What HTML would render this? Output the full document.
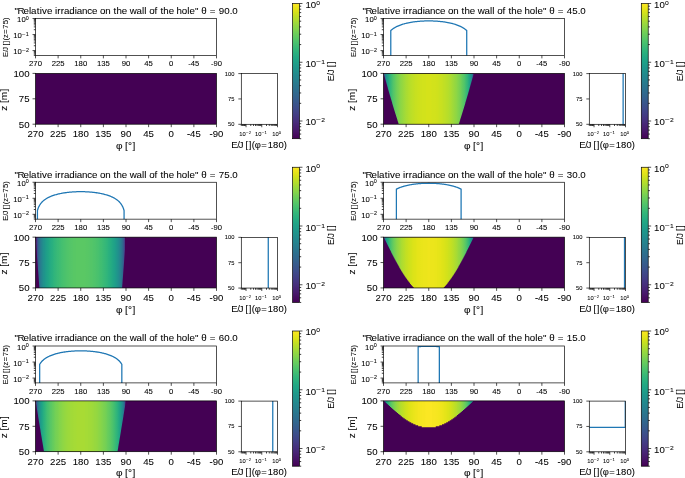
<!DOCTYPE html>
<html><head><meta charset="utf-8"><style>
html,body{margin:0;padding:0;background:#fff;}
svg{display:block;will-change:transform;}
text{font-family:"Liberation Sans",sans-serif;fill:#000;stroke:#000;stroke-width:0.06px;}
</style></head><body>
<svg width="685" height="478" viewBox="0 0 685 478">
<defs><clipPath id="c1"><rect x="35.5" y="18.5" width="181" height="36.9"/></clipPath><clipPath id="c2"><rect x="241.3" y="73.6" width="36.2" height="50.7"/></clipPath><clipPath id="c3"><rect x="383.5" y="18.5" width="181" height="36.9"/></clipPath><linearGradient id="g1" gradientUnits="userSpaceOnUse" x1="383.5" y1="0" x2="474" y2="0"><stop offset="0%" stop-color="#440154"/><stop offset="0.56%" stop-color="#443a83"/><stop offset="1.11%" stop-color="#34608d"/><stop offset="1.67%" stop-color="#2c728e"/><stop offset="2.22%" stop-color="#27808e"/><stop offset="2.78%" stop-color="#238a8d"/><stop offset="3.33%" stop-color="#20928c"/><stop offset="3.89%" stop-color="#1f998a"/><stop offset="4.44%" stop-color="#1f9f88"/><stop offset="5%" stop-color="#20a486"/><stop offset="5.56%" stop-color="#23a983"/><stop offset="6.11%" stop-color="#27ad81"/><stop offset="6.67%" stop-color="#2cb17e"/><stop offset="7.22%" stop-color="#31b57b"/><stop offset="7.78%" stop-color="#35b779"/><stop offset="8.33%" stop-color="#3aba76"/><stop offset="8.89%" stop-color="#3fbc73"/><stop offset="9.44%" stop-color="#44bf70"/><stop offset="10%" stop-color="#4ac16d"/><stop offset="10.56%" stop-color="#50c46a"/><stop offset="11.11%" stop-color="#54c568"/><stop offset="11.67%" stop-color="#58c765"/><stop offset="12.22%" stop-color="#5cc863"/><stop offset="12.78%" stop-color="#60ca60"/><stop offset="13.33%" stop-color="#65cb5e"/><stop offset="13.89%" stop-color="#69cd5b"/><stop offset="14.44%" stop-color="#6ece58"/><stop offset="15%" stop-color="#73d056"/><stop offset="15.56%" stop-color="#75d054"/><stop offset="16.11%" stop-color="#7ad151"/><stop offset="16.67%" stop-color="#7cd250"/><stop offset="17.22%" stop-color="#81d34d"/><stop offset="17.78%" stop-color="#84d44b"/><stop offset="18.33%" stop-color="#86d549"/><stop offset="18.89%" stop-color="#8bd646"/><stop offset="19.44%" stop-color="#8ed645"/><stop offset="20%" stop-color="#90d743"/><stop offset="20.56%" stop-color="#93d741"/><stop offset="21.11%" stop-color="#95d840"/><stop offset="21.67%" stop-color="#98d83e"/><stop offset="22.22%" stop-color="#9bd93c"/><stop offset="22.78%" stop-color="#9dd93b"/><stop offset="23.33%" stop-color="#a0da39"/><stop offset="23.89%" stop-color="#a2da37"/><stop offset="24.44%" stop-color="#a5db36"/><stop offset="25%" stop-color="#a8db34"/><stop offset="25.56%" stop-color="#aadc32"/><stop offset="26.11%" stop-color="#addc30"/><stop offset="26.67%" stop-color="#addc30"/><stop offset="27.22%" stop-color="#b0dd2f"/><stop offset="27.78%" stop-color="#b2dd2d"/><stop offset="28.33%" stop-color="#b5de2b"/><stop offset="28.89%" stop-color="#b5de2b"/><stop offset="29.44%" stop-color="#b8de29"/><stop offset="30%" stop-color="#bade28"/><stop offset="30.56%" stop-color="#bade28"/><stop offset="31.11%" stop-color="#bddf26"/><stop offset="31.67%" stop-color="#bddf26"/><stop offset="32.22%" stop-color="#c0df25"/><stop offset="32.78%" stop-color="#c0df25"/><stop offset="33.33%" stop-color="#c2df23"/><stop offset="33.89%" stop-color="#c2df23"/><stop offset="34.44%" stop-color="#c5e021"/><stop offset="35%" stop-color="#c5e021"/><stop offset="35.56%" stop-color="#c8e020"/><stop offset="36.11%" stop-color="#c8e020"/><stop offset="36.67%" stop-color="#c8e020"/><stop offset="37.22%" stop-color="#cae11f"/><stop offset="37.78%" stop-color="#cae11f"/><stop offset="38.33%" stop-color="#cae11f"/><stop offset="38.89%" stop-color="#cde11d"/><stop offset="39.44%" stop-color="#cde11d"/><stop offset="40%" stop-color="#cde11d"/><stop offset="40.56%" stop-color="#d0e11c"/><stop offset="41.11%" stop-color="#d0e11c"/><stop offset="41.67%" stop-color="#d0e11c"/><stop offset="42.22%" stop-color="#d0e11c"/><stop offset="42.78%" stop-color="#d2e21b"/><stop offset="43.33%" stop-color="#d2e21b"/><stop offset="43.89%" stop-color="#d2e21b"/><stop offset="44.44%" stop-color="#d2e21b"/><stop offset="45%" stop-color="#d2e21b"/><stop offset="45.56%" stop-color="#d2e21b"/><stop offset="46.11%" stop-color="#d2e21b"/><stop offset="46.67%" stop-color="#d2e21b"/><stop offset="47.22%" stop-color="#d5e21a"/><stop offset="47.78%" stop-color="#d5e21a"/><stop offset="48.33%" stop-color="#d5e21a"/><stop offset="48.89%" stop-color="#d5e21a"/><stop offset="49.44%" stop-color="#d5e21a"/><stop offset="50%" stop-color="#d5e21a"/><stop offset="50.56%" stop-color="#d5e21a"/><stop offset="51.11%" stop-color="#d5e21a"/><stop offset="51.67%" stop-color="#d5e21a"/><stop offset="52.22%" stop-color="#d5e21a"/><stop offset="52.78%" stop-color="#d5e21a"/><stop offset="53.33%" stop-color="#d2e21b"/><stop offset="53.89%" stop-color="#d2e21b"/><stop offset="54.44%" stop-color="#d2e21b"/><stop offset="55%" stop-color="#d2e21b"/><stop offset="55.56%" stop-color="#d2e21b"/><stop offset="56.11%" stop-color="#d2e21b"/><stop offset="56.67%" stop-color="#d2e21b"/><stop offset="57.22%" stop-color="#d2e21b"/><stop offset="57.78%" stop-color="#d0e11c"/><stop offset="58.33%" stop-color="#d0e11c"/><stop offset="58.89%" stop-color="#d0e11c"/><stop offset="59.44%" stop-color="#d0e11c"/><stop offset="60%" stop-color="#cde11d"/><stop offset="60.56%" stop-color="#cde11d"/><stop offset="61.11%" stop-color="#cde11d"/><stop offset="61.67%" stop-color="#cae11f"/><stop offset="62.22%" stop-color="#cae11f"/><stop offset="62.78%" stop-color="#cae11f"/><stop offset="63.33%" stop-color="#c8e020"/><stop offset="63.89%" stop-color="#c8e020"/><stop offset="64.44%" stop-color="#c8e020"/><stop offset="65%" stop-color="#c5e021"/><stop offset="65.56%" stop-color="#c5e021"/><stop offset="66.11%" stop-color="#c2df23"/><stop offset="66.67%" stop-color="#c2df23"/><stop offset="67.22%" stop-color="#c0df25"/><stop offset="67.78%" stop-color="#c0df25"/><stop offset="68.33%" stop-color="#bddf26"/><stop offset="68.89%" stop-color="#bddf26"/><stop offset="69.44%" stop-color="#bade28"/><stop offset="70%" stop-color="#bade28"/><stop offset="70.56%" stop-color="#b8de29"/><stop offset="71.11%" stop-color="#b5de2b"/><stop offset="71.67%" stop-color="#b5de2b"/><stop offset="72.22%" stop-color="#b2dd2d"/><stop offset="72.78%" stop-color="#b0dd2f"/><stop offset="73.33%" stop-color="#addc30"/><stop offset="73.89%" stop-color="#addc30"/><stop offset="74.44%" stop-color="#aadc32"/><stop offset="75%" stop-color="#a8db34"/><stop offset="75.56%" stop-color="#a5db36"/><stop offset="76.11%" stop-color="#a2da37"/><stop offset="76.67%" stop-color="#a0da39"/><stop offset="77.22%" stop-color="#9dd93b"/><stop offset="77.78%" stop-color="#9bd93c"/><stop offset="78.33%" stop-color="#98d83e"/><stop offset="78.89%" stop-color="#95d840"/><stop offset="79.44%" stop-color="#93d741"/><stop offset="80%" stop-color="#90d743"/><stop offset="80.56%" stop-color="#8ed645"/><stop offset="81.11%" stop-color="#8bd646"/><stop offset="81.67%" stop-color="#86d549"/><stop offset="82.22%" stop-color="#84d44b"/><stop offset="82.78%" stop-color="#81d34d"/><stop offset="83.33%" stop-color="#7cd250"/><stop offset="83.89%" stop-color="#7ad151"/><stop offset="84.44%" stop-color="#75d054"/><stop offset="85%" stop-color="#73d056"/><stop offset="85.56%" stop-color="#6ece58"/><stop offset="86.11%" stop-color="#69cd5b"/><stop offset="86.67%" stop-color="#65cb5e"/><stop offset="87.22%" stop-color="#60ca60"/><stop offset="87.78%" stop-color="#5cc863"/><stop offset="88.33%" stop-color="#58c765"/><stop offset="88.89%" stop-color="#54c568"/><stop offset="89.44%" stop-color="#50c46a"/><stop offset="90%" stop-color="#4ac16d"/><stop offset="90.56%" stop-color="#44bf70"/><stop offset="91.11%" stop-color="#3fbc73"/><stop offset="91.67%" stop-color="#3aba76"/><stop offset="92.22%" stop-color="#35b779"/><stop offset="92.78%" stop-color="#31b57b"/><stop offset="93.33%" stop-color="#2cb17e"/><stop offset="93.89%" stop-color="#27ad81"/><stop offset="94.44%" stop-color="#23a983"/><stop offset="95%" stop-color="#20a486"/><stop offset="95.56%" stop-color="#1f9f88"/><stop offset="96.11%" stop-color="#1f998a"/><stop offset="96.67%" stop-color="#20928c"/><stop offset="97.22%" stop-color="#238a8d"/><stop offset="97.78%" stop-color="#27808e"/><stop offset="98.33%" stop-color="#2c728e"/><stop offset="98.89%" stop-color="#34608d"/><stop offset="99.44%" stop-color="#443a83"/><stop offset="100%" stop-color="#440154"/></linearGradient><clipPath id="c4"><rect x="589.3" y="73.6" width="36.2" height="50.7"/></clipPath><clipPath id="c5"><rect x="35.5" y="182.25" width="181" height="36.9"/></clipPath><linearGradient id="g2" gradientUnits="userSpaceOnUse" x1="35.5" y1="0" x2="126" y2="0"><stop offset="0%" stop-color="#440154"/><stop offset="0.56%" stop-color="#440154"/><stop offset="1.11%" stop-color="#482878"/><stop offset="1.67%" stop-color="#424086"/><stop offset="2.22%" stop-color="#3c508b"/><stop offset="2.78%" stop-color="#375b8d"/><stop offset="3.33%" stop-color="#32648e"/><stop offset="3.89%" stop-color="#2f6b8e"/><stop offset="4.44%" stop-color="#2c718e"/><stop offset="5%" stop-color="#2a778e"/><stop offset="5.56%" stop-color="#287c8e"/><stop offset="6.11%" stop-color="#27808e"/><stop offset="6.67%" stop-color="#25838e"/><stop offset="7.22%" stop-color="#24878e"/><stop offset="7.78%" stop-color="#228b8d"/><stop offset="8.33%" stop-color="#218e8d"/><stop offset="8.89%" stop-color="#21918c"/><stop offset="9.44%" stop-color="#20938c"/><stop offset="10%" stop-color="#1f958b"/><stop offset="10.56%" stop-color="#1f988b"/><stop offset="11.11%" stop-color="#1f9a8a"/><stop offset="11.67%" stop-color="#1e9d89"/><stop offset="12.22%" stop-color="#1f9f88"/><stop offset="12.78%" stop-color="#1fa188"/><stop offset="13.33%" stop-color="#1fa287"/><stop offset="13.89%" stop-color="#20a486"/><stop offset="14.44%" stop-color="#21a585"/><stop offset="15%" stop-color="#22a785"/><stop offset="15.56%" stop-color="#23a983"/><stop offset="16.11%" stop-color="#24aa83"/><stop offset="16.67%" stop-color="#25ac82"/><stop offset="17.22%" stop-color="#26ad81"/><stop offset="17.78%" stop-color="#28ae80"/><stop offset="18.33%" stop-color="#29af7f"/><stop offset="18.89%" stop-color="#2ab07f"/><stop offset="19.44%" stop-color="#2cb17e"/><stop offset="20%" stop-color="#2eb37c"/><stop offset="20.56%" stop-color="#2fb47c"/><stop offset="21.11%" stop-color="#31b57b"/><stop offset="21.67%" stop-color="#32b67a"/><stop offset="22.22%" stop-color="#34b679"/><stop offset="22.78%" stop-color="#35b779"/><stop offset="23.33%" stop-color="#37b878"/><stop offset="23.89%" stop-color="#38b977"/><stop offset="24.44%" stop-color="#3aba76"/><stop offset="25%" stop-color="#3aba76"/><stop offset="25.56%" stop-color="#3bbb75"/><stop offset="26.11%" stop-color="#3dbc74"/><stop offset="26.67%" stop-color="#3fbc73"/><stop offset="27.22%" stop-color="#40bd72"/><stop offset="27.78%" stop-color="#40bd72"/><stop offset="28.33%" stop-color="#42be71"/><stop offset="28.89%" stop-color="#44bf70"/><stop offset="29.44%" stop-color="#44bf70"/><stop offset="30%" stop-color="#46c06f"/><stop offset="30.56%" stop-color="#48c16e"/><stop offset="31.11%" stop-color="#48c16e"/><stop offset="31.67%" stop-color="#4ac16d"/><stop offset="32.22%" stop-color="#4ac16d"/><stop offset="32.78%" stop-color="#4cc26c"/><stop offset="33.33%" stop-color="#4cc26c"/><stop offset="33.89%" stop-color="#4ec36b"/><stop offset="34.44%" stop-color="#4ec36b"/><stop offset="35%" stop-color="#50c46a"/><stop offset="35.56%" stop-color="#50c46a"/><stop offset="36.11%" stop-color="#50c46a"/><stop offset="36.67%" stop-color="#52c569"/><stop offset="37.22%" stop-color="#52c569"/><stop offset="37.78%" stop-color="#54c568"/><stop offset="38.33%" stop-color="#54c568"/><stop offset="38.89%" stop-color="#54c568"/><stop offset="39.44%" stop-color="#54c568"/><stop offset="40%" stop-color="#56c667"/><stop offset="40.56%" stop-color="#56c667"/><stop offset="41.11%" stop-color="#56c667"/><stop offset="41.67%" stop-color="#58c765"/><stop offset="42.22%" stop-color="#58c765"/><stop offset="42.78%" stop-color="#58c765"/><stop offset="43.33%" stop-color="#58c765"/><stop offset="43.89%" stop-color="#58c765"/><stop offset="44.44%" stop-color="#58c765"/><stop offset="45%" stop-color="#5ac864"/><stop offset="45.56%" stop-color="#5ac864"/><stop offset="46.11%" stop-color="#5ac864"/><stop offset="46.67%" stop-color="#5ac864"/><stop offset="47.22%" stop-color="#5ac864"/><stop offset="47.78%" stop-color="#5ac864"/><stop offset="48.33%" stop-color="#5ac864"/><stop offset="48.89%" stop-color="#5ac864"/><stop offset="49.44%" stop-color="#5ac864"/><stop offset="50%" stop-color="#5ac864"/><stop offset="50.56%" stop-color="#5ac864"/><stop offset="51.11%" stop-color="#5ac864"/><stop offset="51.67%" stop-color="#5ac864"/><stop offset="52.22%" stop-color="#5ac864"/><stop offset="52.78%" stop-color="#5ac864"/><stop offset="53.33%" stop-color="#5ac864"/><stop offset="53.89%" stop-color="#5ac864"/><stop offset="54.44%" stop-color="#5ac864"/><stop offset="55%" stop-color="#5ac864"/><stop offset="55.56%" stop-color="#58c765"/><stop offset="56.11%" stop-color="#58c765"/><stop offset="56.67%" stop-color="#58c765"/><stop offset="57.22%" stop-color="#58c765"/><stop offset="57.78%" stop-color="#58c765"/><stop offset="58.33%" stop-color="#58c765"/><stop offset="58.89%" stop-color="#56c667"/><stop offset="59.44%" stop-color="#56c667"/><stop offset="60%" stop-color="#56c667"/><stop offset="60.56%" stop-color="#54c568"/><stop offset="61.11%" stop-color="#54c568"/><stop offset="61.67%" stop-color="#54c568"/><stop offset="62.22%" stop-color="#54c568"/><stop offset="62.78%" stop-color="#52c569"/><stop offset="63.33%" stop-color="#52c569"/><stop offset="63.89%" stop-color="#50c46a"/><stop offset="64.44%" stop-color="#50c46a"/><stop offset="65%" stop-color="#50c46a"/><stop offset="65.56%" stop-color="#4ec36b"/><stop offset="66.11%" stop-color="#4ec36b"/><stop offset="66.67%" stop-color="#4cc26c"/><stop offset="67.22%" stop-color="#4cc26c"/><stop offset="67.78%" stop-color="#4ac16d"/><stop offset="68.33%" stop-color="#4ac16d"/><stop offset="68.89%" stop-color="#48c16e"/><stop offset="69.44%" stop-color="#48c16e"/><stop offset="70%" stop-color="#46c06f"/><stop offset="70.56%" stop-color="#44bf70"/><stop offset="71.11%" stop-color="#44bf70"/><stop offset="71.67%" stop-color="#42be71"/><stop offset="72.22%" stop-color="#40bd72"/><stop offset="72.78%" stop-color="#40bd72"/><stop offset="73.33%" stop-color="#3fbc73"/><stop offset="73.89%" stop-color="#3dbc74"/><stop offset="74.44%" stop-color="#3bbb75"/><stop offset="75%" stop-color="#3aba76"/><stop offset="75.56%" stop-color="#3aba76"/><stop offset="76.11%" stop-color="#38b977"/><stop offset="76.67%" stop-color="#37b878"/><stop offset="77.22%" stop-color="#35b779"/><stop offset="77.78%" stop-color="#34b679"/><stop offset="78.33%" stop-color="#32b67a"/><stop offset="78.89%" stop-color="#31b57b"/><stop offset="79.44%" stop-color="#2fb47c"/><stop offset="80%" stop-color="#2eb37c"/><stop offset="80.56%" stop-color="#2cb17e"/><stop offset="81.11%" stop-color="#2ab07f"/><stop offset="81.67%" stop-color="#29af7f"/><stop offset="82.22%" stop-color="#28ae80"/><stop offset="82.78%" stop-color="#26ad81"/><stop offset="83.33%" stop-color="#25ac82"/><stop offset="83.89%" stop-color="#24aa83"/><stop offset="84.44%" stop-color="#23a983"/><stop offset="85%" stop-color="#22a785"/><stop offset="85.56%" stop-color="#21a585"/><stop offset="86.11%" stop-color="#20a486"/><stop offset="86.67%" stop-color="#1fa287"/><stop offset="87.22%" stop-color="#1fa188"/><stop offset="87.78%" stop-color="#1f9f88"/><stop offset="88.33%" stop-color="#1e9d89"/><stop offset="88.89%" stop-color="#1f9a8a"/><stop offset="89.44%" stop-color="#1f988b"/><stop offset="90%" stop-color="#1f958b"/><stop offset="90.56%" stop-color="#20938c"/><stop offset="91.11%" stop-color="#21918c"/><stop offset="91.67%" stop-color="#218e8d"/><stop offset="92.22%" stop-color="#228b8d"/><stop offset="92.78%" stop-color="#24878e"/><stop offset="93.33%" stop-color="#25838e"/><stop offset="93.89%" stop-color="#27808e"/><stop offset="94.44%" stop-color="#287c8e"/><stop offset="95%" stop-color="#2a778e"/><stop offset="95.56%" stop-color="#2c718e"/><stop offset="96.11%" stop-color="#2f6b8e"/><stop offset="96.67%" stop-color="#32648e"/><stop offset="97.22%" stop-color="#375b8d"/><stop offset="97.78%" stop-color="#3c508b"/><stop offset="98.33%" stop-color="#424086"/><stop offset="98.89%" stop-color="#482878"/><stop offset="99.44%" stop-color="#440154"/><stop offset="100%" stop-color="#440154"/></linearGradient><clipPath id="c6"><rect x="241.3" y="237.35" width="36.2" height="50.7"/></clipPath><clipPath id="c7"><rect x="383.5" y="182.25" width="181" height="36.9"/></clipPath><linearGradient id="g3" gradientUnits="userSpaceOnUse" x1="383.5" y1="0" x2="474" y2="0"><stop offset="0%" stop-color="#440154"/><stop offset="0.56%" stop-color="#404688"/><stop offset="1.11%" stop-color="#30698e"/><stop offset="1.67%" stop-color="#287c8e"/><stop offset="2.22%" stop-color="#23898e"/><stop offset="2.78%" stop-color="#20938c"/><stop offset="3.33%" stop-color="#1e9b8a"/><stop offset="3.89%" stop-color="#1fa287"/><stop offset="4.44%" stop-color="#22a884"/><stop offset="5%" stop-color="#27ad81"/><stop offset="5.56%" stop-color="#2db27d"/><stop offset="6.11%" stop-color="#34b679"/><stop offset="6.67%" stop-color="#3aba76"/><stop offset="7.22%" stop-color="#3fbc73"/><stop offset="7.78%" stop-color="#46c06f"/><stop offset="8.33%" stop-color="#4cc26c"/><stop offset="8.89%" stop-color="#52c569"/><stop offset="9.44%" stop-color="#58c765"/><stop offset="10%" stop-color="#5ec962"/><stop offset="10.56%" stop-color="#63cb5f"/><stop offset="11.11%" stop-color="#69cd5b"/><stop offset="11.67%" stop-color="#6ece58"/><stop offset="12.22%" stop-color="#73d056"/><stop offset="12.78%" stop-color="#77d153"/><stop offset="13.33%" stop-color="#7cd250"/><stop offset="13.89%" stop-color="#81d34d"/><stop offset="14.44%" stop-color="#86d549"/><stop offset="15%" stop-color="#89d548"/><stop offset="15.56%" stop-color="#8ed645"/><stop offset="16.11%" stop-color="#93d741"/><stop offset="16.67%" stop-color="#95d840"/><stop offset="17.22%" stop-color="#98d83e"/><stop offset="17.78%" stop-color="#9dd93b"/><stop offset="18.33%" stop-color="#a0da39"/><stop offset="18.89%" stop-color="#a2da37"/><stop offset="19.44%" stop-color="#a8db34"/><stop offset="20%" stop-color="#aadc32"/><stop offset="20.56%" stop-color="#addc30"/><stop offset="21.11%" stop-color="#b0dd2f"/><stop offset="21.67%" stop-color="#b2dd2d"/><stop offset="22.22%" stop-color="#b5de2b"/><stop offset="22.78%" stop-color="#b8de29"/><stop offset="23.33%" stop-color="#bade28"/><stop offset="23.89%" stop-color="#bddf26"/><stop offset="24.44%" stop-color="#c0df25"/><stop offset="25%" stop-color="#c2df23"/><stop offset="25.56%" stop-color="#c5e021"/><stop offset="26.11%" stop-color="#c5e021"/><stop offset="26.67%" stop-color="#c8e020"/><stop offset="27.22%" stop-color="#cae11f"/><stop offset="27.78%" stop-color="#cde11d"/><stop offset="28.33%" stop-color="#cde11d"/><stop offset="28.89%" stop-color="#d0e11c"/><stop offset="29.44%" stop-color="#d2e21b"/><stop offset="30%" stop-color="#d2e21b"/><stop offset="30.56%" stop-color="#d5e21a"/><stop offset="31.11%" stop-color="#d5e21a"/><stop offset="31.67%" stop-color="#d8e219"/><stop offset="32.22%" stop-color="#dae319"/><stop offset="32.78%" stop-color="#dae319"/><stop offset="33.33%" stop-color="#dde318"/><stop offset="33.89%" stop-color="#dde318"/><stop offset="34.44%" stop-color="#dfe318"/><stop offset="35%" stop-color="#dfe318"/><stop offset="35.56%" stop-color="#dfe318"/><stop offset="36.11%" stop-color="#e2e418"/><stop offset="36.67%" stop-color="#e2e418"/><stop offset="37.22%" stop-color="#e5e419"/><stop offset="37.78%" stop-color="#e5e419"/><stop offset="38.33%" stop-color="#e5e419"/><stop offset="38.89%" stop-color="#e7e419"/><stop offset="39.44%" stop-color="#e7e419"/><stop offset="40%" stop-color="#e7e419"/><stop offset="40.56%" stop-color="#e7e419"/><stop offset="41.11%" stop-color="#eae51a"/><stop offset="41.67%" stop-color="#eae51a"/><stop offset="42.22%" stop-color="#eae51a"/><stop offset="42.78%" stop-color="#eae51a"/><stop offset="43.33%" stop-color="#eae51a"/><stop offset="43.89%" stop-color="#ece51b"/><stop offset="44.44%" stop-color="#ece51b"/><stop offset="45%" stop-color="#ece51b"/><stop offset="45.56%" stop-color="#ece51b"/><stop offset="46.11%" stop-color="#ece51b"/><stop offset="46.67%" stop-color="#ece51b"/><stop offset="47.22%" stop-color="#ece51b"/><stop offset="47.78%" stop-color="#ece51b"/><stop offset="48.33%" stop-color="#ece51b"/><stop offset="48.89%" stop-color="#efe51c"/><stop offset="49.44%" stop-color="#efe51c"/><stop offset="50%" stop-color="#efe51c"/><stop offset="50.56%" stop-color="#efe51c"/><stop offset="51.11%" stop-color="#efe51c"/><stop offset="51.67%" stop-color="#ece51b"/><stop offset="52.22%" stop-color="#ece51b"/><stop offset="52.78%" stop-color="#ece51b"/><stop offset="53.33%" stop-color="#ece51b"/><stop offset="53.89%" stop-color="#ece51b"/><stop offset="54.44%" stop-color="#ece51b"/><stop offset="55%" stop-color="#ece51b"/><stop offset="55.56%" stop-color="#ece51b"/><stop offset="56.11%" stop-color="#ece51b"/><stop offset="56.67%" stop-color="#eae51a"/><stop offset="57.22%" stop-color="#eae51a"/><stop offset="57.78%" stop-color="#eae51a"/><stop offset="58.33%" stop-color="#eae51a"/><stop offset="58.89%" stop-color="#eae51a"/><stop offset="59.44%" stop-color="#e7e419"/><stop offset="60%" stop-color="#e7e419"/><stop offset="60.56%" stop-color="#e7e419"/><stop offset="61.11%" stop-color="#e7e419"/><stop offset="61.67%" stop-color="#e5e419"/><stop offset="62.22%" stop-color="#e5e419"/><stop offset="62.78%" stop-color="#e5e419"/><stop offset="63.33%" stop-color="#e2e418"/><stop offset="63.89%" stop-color="#e2e418"/><stop offset="64.44%" stop-color="#dfe318"/><stop offset="65%" stop-color="#dfe318"/><stop offset="65.56%" stop-color="#dfe318"/><stop offset="66.11%" stop-color="#dde318"/><stop offset="66.67%" stop-color="#dde318"/><stop offset="67.22%" stop-color="#dae319"/><stop offset="67.78%" stop-color="#dae319"/><stop offset="68.33%" stop-color="#d8e219"/><stop offset="68.89%" stop-color="#d5e21a"/><stop offset="69.44%" stop-color="#d5e21a"/><stop offset="70%" stop-color="#d2e21b"/><stop offset="70.56%" stop-color="#d2e21b"/><stop offset="71.11%" stop-color="#d0e11c"/><stop offset="71.67%" stop-color="#cde11d"/><stop offset="72.22%" stop-color="#cde11d"/><stop offset="72.78%" stop-color="#cae11f"/><stop offset="73.33%" stop-color="#c8e020"/><stop offset="73.89%" stop-color="#c5e021"/><stop offset="74.44%" stop-color="#c5e021"/><stop offset="75%" stop-color="#c2df23"/><stop offset="75.56%" stop-color="#c0df25"/><stop offset="76.11%" stop-color="#bddf26"/><stop offset="76.67%" stop-color="#bade28"/><stop offset="77.22%" stop-color="#b8de29"/><stop offset="77.78%" stop-color="#b5de2b"/><stop offset="78.33%" stop-color="#b2dd2d"/><stop offset="78.89%" stop-color="#b0dd2f"/><stop offset="79.44%" stop-color="#addc30"/><stop offset="80%" stop-color="#aadc32"/><stop offset="80.56%" stop-color="#a8db34"/><stop offset="81.11%" stop-color="#a2da37"/><stop offset="81.67%" stop-color="#a0da39"/><stop offset="82.22%" stop-color="#9dd93b"/><stop offset="82.78%" stop-color="#98d83e"/><stop offset="83.33%" stop-color="#95d840"/><stop offset="83.89%" stop-color="#93d741"/><stop offset="84.44%" stop-color="#8ed645"/><stop offset="85%" stop-color="#89d548"/><stop offset="85.56%" stop-color="#86d549"/><stop offset="86.11%" stop-color="#81d34d"/><stop offset="86.67%" stop-color="#7cd250"/><stop offset="87.22%" stop-color="#77d153"/><stop offset="87.78%" stop-color="#73d056"/><stop offset="88.33%" stop-color="#6ece58"/><stop offset="88.89%" stop-color="#69cd5b"/><stop offset="89.44%" stop-color="#63cb5f"/><stop offset="90%" stop-color="#5ec962"/><stop offset="90.56%" stop-color="#58c765"/><stop offset="91.11%" stop-color="#52c569"/><stop offset="91.67%" stop-color="#4cc26c"/><stop offset="92.22%" stop-color="#46c06f"/><stop offset="92.78%" stop-color="#3fbc73"/><stop offset="93.33%" stop-color="#3aba76"/><stop offset="93.89%" stop-color="#34b679"/><stop offset="94.44%" stop-color="#2db27d"/><stop offset="95%" stop-color="#27ad81"/><stop offset="95.56%" stop-color="#22a884"/><stop offset="96.11%" stop-color="#1fa287"/><stop offset="96.67%" stop-color="#1e9b8a"/><stop offset="97.22%" stop-color="#20938c"/><stop offset="97.78%" stop-color="#23898e"/><stop offset="98.33%" stop-color="#287c8e"/><stop offset="98.89%" stop-color="#30698e"/><stop offset="99.44%" stop-color="#404688"/><stop offset="100%" stop-color="#440154"/></linearGradient><clipPath id="c8"><rect x="589.3" y="237.35" width="36.2" height="50.7"/></clipPath><clipPath id="c9"><rect x="35.5" y="346" width="181" height="36.9"/></clipPath><linearGradient id="g4" gradientUnits="userSpaceOnUse" x1="35.5" y1="0" x2="126" y2="0"><stop offset="0%" stop-color="#440154"/><stop offset="0.56%" stop-color="#482576"/><stop offset="1.11%" stop-color="#3d4e8a"/><stop offset="1.67%" stop-color="#33628d"/><stop offset="2.22%" stop-color="#2d708e"/><stop offset="2.78%" stop-color="#297a8e"/><stop offset="3.33%" stop-color="#26828e"/><stop offset="3.89%" stop-color="#23898e"/><stop offset="4.44%" stop-color="#21908d"/><stop offset="5%" stop-color="#1f948c"/><stop offset="5.56%" stop-color="#1f998a"/><stop offset="6.11%" stop-color="#1f9e89"/><stop offset="6.67%" stop-color="#1fa187"/><stop offset="7.22%" stop-color="#21a585"/><stop offset="7.78%" stop-color="#22a884"/><stop offset="8.33%" stop-color="#25ac82"/><stop offset="8.89%" stop-color="#28ae80"/><stop offset="9.44%" stop-color="#2cb17e"/><stop offset="10%" stop-color="#2eb37c"/><stop offset="10.56%" stop-color="#32b67a"/><stop offset="11.11%" stop-color="#35b779"/><stop offset="11.67%" stop-color="#38b977"/><stop offset="12.22%" stop-color="#3dbc74"/><stop offset="12.78%" stop-color="#40bd72"/><stop offset="13.33%" stop-color="#44bf70"/><stop offset="13.89%" stop-color="#46c06f"/><stop offset="14.44%" stop-color="#4ac16d"/><stop offset="15%" stop-color="#4ec36b"/><stop offset="15.56%" stop-color="#50c46a"/><stop offset="16.11%" stop-color="#54c568"/><stop offset="16.67%" stop-color="#58c765"/><stop offset="17.22%" stop-color="#5ac864"/><stop offset="17.78%" stop-color="#5cc863"/><stop offset="18.33%" stop-color="#60ca60"/><stop offset="18.89%" stop-color="#63cb5f"/><stop offset="19.44%" stop-color="#65cb5e"/><stop offset="20%" stop-color="#67cc5c"/><stop offset="20.56%" stop-color="#69cd5b"/><stop offset="21.11%" stop-color="#6ece58"/><stop offset="21.67%" stop-color="#70cf57"/><stop offset="22.22%" stop-color="#73d056"/><stop offset="22.78%" stop-color="#75d054"/><stop offset="23.33%" stop-color="#77d153"/><stop offset="23.89%" stop-color="#7ad151"/><stop offset="24.44%" stop-color="#7ad151"/><stop offset="25%" stop-color="#7cd250"/><stop offset="25.56%" stop-color="#7fd34e"/><stop offset="26.11%" stop-color="#81d34d"/><stop offset="26.67%" stop-color="#84d44b"/><stop offset="27.22%" stop-color="#84d44b"/><stop offset="27.78%" stop-color="#86d549"/><stop offset="28.33%" stop-color="#89d548"/><stop offset="28.89%" stop-color="#89d548"/><stop offset="29.44%" stop-color="#8bd646"/><stop offset="30%" stop-color="#8ed645"/><stop offset="30.56%" stop-color="#8ed645"/><stop offset="31.11%" stop-color="#90d743"/><stop offset="31.67%" stop-color="#93d741"/><stop offset="32.22%" stop-color="#93d741"/><stop offset="32.78%" stop-color="#95d840"/><stop offset="33.33%" stop-color="#95d840"/><stop offset="33.89%" stop-color="#98d83e"/><stop offset="34.44%" stop-color="#98d83e"/><stop offset="35%" stop-color="#98d83e"/><stop offset="35.56%" stop-color="#9bd93c"/><stop offset="36.11%" stop-color="#9bd93c"/><stop offset="36.67%" stop-color="#9dd93b"/><stop offset="37.22%" stop-color="#9dd93b"/><stop offset="37.78%" stop-color="#9dd93b"/><stop offset="38.33%" stop-color="#a0da39"/><stop offset="38.89%" stop-color="#a0da39"/><stop offset="39.44%" stop-color="#a0da39"/><stop offset="40%" stop-color="#a2da37"/><stop offset="40.56%" stop-color="#a2da37"/><stop offset="41.11%" stop-color="#a2da37"/><stop offset="41.67%" stop-color="#a2da37"/><stop offset="42.22%" stop-color="#a5db36"/><stop offset="42.78%" stop-color="#a5db36"/><stop offset="43.33%" stop-color="#a5db36"/><stop offset="43.89%" stop-color="#a5db36"/><stop offset="44.44%" stop-color="#a5db36"/><stop offset="45%" stop-color="#a5db36"/><stop offset="45.56%" stop-color="#a8db34"/><stop offset="46.11%" stop-color="#a8db34"/><stop offset="46.67%" stop-color="#a8db34"/><stop offset="47.22%" stop-color="#a8db34"/><stop offset="47.78%" stop-color="#a8db34"/><stop offset="48.33%" stop-color="#a8db34"/><stop offset="48.89%" stop-color="#a8db34"/><stop offset="49.44%" stop-color="#a8db34"/><stop offset="50%" stop-color="#a8db34"/><stop offset="50.56%" stop-color="#a8db34"/><stop offset="51.11%" stop-color="#a8db34"/><stop offset="51.67%" stop-color="#a8db34"/><stop offset="52.22%" stop-color="#a8db34"/><stop offset="52.78%" stop-color="#a8db34"/><stop offset="53.33%" stop-color="#a8db34"/><stop offset="53.89%" stop-color="#a8db34"/><stop offset="54.44%" stop-color="#a8db34"/><stop offset="55%" stop-color="#a5db36"/><stop offset="55.56%" stop-color="#a5db36"/><stop offset="56.11%" stop-color="#a5db36"/><stop offset="56.67%" stop-color="#a5db36"/><stop offset="57.22%" stop-color="#a5db36"/><stop offset="57.78%" stop-color="#a5db36"/><stop offset="58.33%" stop-color="#a2da37"/><stop offset="58.89%" stop-color="#a2da37"/><stop offset="59.44%" stop-color="#a2da37"/><stop offset="60%" stop-color="#a2da37"/><stop offset="60.56%" stop-color="#a0da39"/><stop offset="61.11%" stop-color="#a0da39"/><stop offset="61.67%" stop-color="#a0da39"/><stop offset="62.22%" stop-color="#9dd93b"/><stop offset="62.78%" stop-color="#9dd93b"/><stop offset="63.33%" stop-color="#9dd93b"/><stop offset="63.89%" stop-color="#9bd93c"/><stop offset="64.44%" stop-color="#9bd93c"/><stop offset="65%" stop-color="#98d83e"/><stop offset="65.56%" stop-color="#98d83e"/><stop offset="66.11%" stop-color="#98d83e"/><stop offset="66.67%" stop-color="#95d840"/><stop offset="67.22%" stop-color="#95d840"/><stop offset="67.78%" stop-color="#93d741"/><stop offset="68.33%" stop-color="#93d741"/><stop offset="68.89%" stop-color="#90d743"/><stop offset="69.44%" stop-color="#8ed645"/><stop offset="70%" stop-color="#8ed645"/><stop offset="70.56%" stop-color="#8bd646"/><stop offset="71.11%" stop-color="#89d548"/><stop offset="71.67%" stop-color="#89d548"/><stop offset="72.22%" stop-color="#86d549"/><stop offset="72.78%" stop-color="#84d44b"/><stop offset="73.33%" stop-color="#84d44b"/><stop offset="73.89%" stop-color="#81d34d"/><stop offset="74.44%" stop-color="#7fd34e"/><stop offset="75%" stop-color="#7cd250"/><stop offset="75.56%" stop-color="#7ad151"/><stop offset="76.11%" stop-color="#7ad151"/><stop offset="76.67%" stop-color="#77d153"/><stop offset="77.22%" stop-color="#75d054"/><stop offset="77.78%" stop-color="#73d056"/><stop offset="78.33%" stop-color="#70cf57"/><stop offset="78.89%" stop-color="#6ece58"/><stop offset="79.44%" stop-color="#69cd5b"/><stop offset="80%" stop-color="#67cc5c"/><stop offset="80.56%" stop-color="#65cb5e"/><stop offset="81.11%" stop-color="#63cb5f"/><stop offset="81.67%" stop-color="#60ca60"/><stop offset="82.22%" stop-color="#5cc863"/><stop offset="82.78%" stop-color="#5ac864"/><stop offset="83.33%" stop-color="#58c765"/><stop offset="83.89%" stop-color="#54c568"/><stop offset="84.44%" stop-color="#50c46a"/><stop offset="85%" stop-color="#4ec36b"/><stop offset="85.56%" stop-color="#4ac16d"/><stop offset="86.11%" stop-color="#46c06f"/><stop offset="86.67%" stop-color="#44bf70"/><stop offset="87.22%" stop-color="#40bd72"/><stop offset="87.78%" stop-color="#3dbc74"/><stop offset="88.33%" stop-color="#38b977"/><stop offset="88.89%" stop-color="#35b779"/><stop offset="89.44%" stop-color="#32b67a"/><stop offset="90%" stop-color="#2eb37c"/><stop offset="90.56%" stop-color="#2cb17e"/><stop offset="91.11%" stop-color="#28ae80"/><stop offset="91.67%" stop-color="#25ac82"/><stop offset="92.22%" stop-color="#22a884"/><stop offset="92.78%" stop-color="#21a585"/><stop offset="93.33%" stop-color="#1fa187"/><stop offset="93.89%" stop-color="#1f9e89"/><stop offset="94.44%" stop-color="#1f998a"/><stop offset="95%" stop-color="#1f948c"/><stop offset="95.56%" stop-color="#21908d"/><stop offset="96.11%" stop-color="#23898e"/><stop offset="96.67%" stop-color="#26828e"/><stop offset="97.22%" stop-color="#297a8e"/><stop offset="97.78%" stop-color="#2d708e"/><stop offset="98.33%" stop-color="#33628d"/><stop offset="98.89%" stop-color="#3d4e8a"/><stop offset="99.44%" stop-color="#482576"/><stop offset="100%" stop-color="#440154"/></linearGradient><clipPath id="c10"><rect x="241.3" y="401.1" width="36.2" height="50.7"/></clipPath><clipPath id="c11"><rect x="383.5" y="346" width="181" height="36.9"/></clipPath><linearGradient id="g5" gradientUnits="userSpaceOnUse" x1="383.5" y1="0" x2="474" y2="0"><stop offset="0%" stop-color="#440154"/><stop offset="0.56%" stop-color="#3e4c8a"/><stop offset="1.11%" stop-color="#2e6f8e"/><stop offset="1.67%" stop-color="#26818e"/><stop offset="2.22%" stop-color="#218e8d"/><stop offset="2.78%" stop-color="#1f988b"/><stop offset="3.33%" stop-color="#1fa188"/><stop offset="3.89%" stop-color="#22a785"/><stop offset="4.44%" stop-color="#27ad81"/><stop offset="5%" stop-color="#2db27d"/><stop offset="5.56%" stop-color="#34b679"/><stop offset="6.11%" stop-color="#3bbb75"/><stop offset="6.67%" stop-color="#42be71"/><stop offset="7.22%" stop-color="#4ac16d"/><stop offset="7.78%" stop-color="#50c46a"/><stop offset="8.33%" stop-color="#58c765"/><stop offset="8.89%" stop-color="#5ec962"/><stop offset="9.44%" stop-color="#63cb5f"/><stop offset="10%" stop-color="#69cd5b"/><stop offset="10.56%" stop-color="#70cf57"/><stop offset="11.11%" stop-color="#75d054"/><stop offset="11.67%" stop-color="#7ad151"/><stop offset="12.22%" stop-color="#7fd34e"/><stop offset="12.78%" stop-color="#84d44b"/><stop offset="13.33%" stop-color="#89d548"/><stop offset="13.89%" stop-color="#8ed645"/><stop offset="14.44%" stop-color="#93d741"/><stop offset="15%" stop-color="#98d83e"/><stop offset="15.56%" stop-color="#9bd93c"/><stop offset="16.11%" stop-color="#a0da39"/><stop offset="16.67%" stop-color="#a2da37"/><stop offset="17.22%" stop-color="#a8db34"/><stop offset="17.78%" stop-color="#aadc32"/><stop offset="18.33%" stop-color="#addc30"/><stop offset="18.89%" stop-color="#b2dd2d"/><stop offset="19.44%" stop-color="#b5de2b"/><stop offset="20%" stop-color="#b8de29"/><stop offset="20.56%" stop-color="#bade28"/><stop offset="21.11%" stop-color="#bddf26"/><stop offset="21.67%" stop-color="#c0df25"/><stop offset="22.22%" stop-color="#c2df23"/><stop offset="22.78%" stop-color="#c5e021"/><stop offset="23.33%" stop-color="#c8e020"/><stop offset="23.89%" stop-color="#cae11f"/><stop offset="24.44%" stop-color="#cde11d"/><stop offset="25%" stop-color="#d0e11c"/><stop offset="25.56%" stop-color="#d2e21b"/><stop offset="26.11%" stop-color="#d5e21a"/><stop offset="26.67%" stop-color="#d5e21a"/><stop offset="27.22%" stop-color="#d8e219"/><stop offset="27.78%" stop-color="#dae319"/><stop offset="28.33%" stop-color="#dde318"/><stop offset="28.89%" stop-color="#dde318"/><stop offset="29.44%" stop-color="#dfe318"/><stop offset="30%" stop-color="#e2e418"/><stop offset="30.56%" stop-color="#e2e418"/><stop offset="31.11%" stop-color="#e5e419"/><stop offset="31.67%" stop-color="#e5e419"/><stop offset="32.22%" stop-color="#e7e419"/><stop offset="32.78%" stop-color="#e7e419"/><stop offset="33.33%" stop-color="#eae51a"/><stop offset="33.89%" stop-color="#eae51a"/><stop offset="34.44%" stop-color="#ece51b"/><stop offset="35%" stop-color="#ece51b"/><stop offset="35.56%" stop-color="#efe51c"/><stop offset="36.11%" stop-color="#efe51c"/><stop offset="36.67%" stop-color="#efe51c"/><stop offset="37.22%" stop-color="#f1e51d"/><stop offset="37.78%" stop-color="#f1e51d"/><stop offset="38.33%" stop-color="#f4e61e"/><stop offset="38.89%" stop-color="#f4e61e"/><stop offset="39.44%" stop-color="#f4e61e"/><stop offset="40%" stop-color="#f4e61e"/><stop offset="40.56%" stop-color="#f6e620"/><stop offset="41.11%" stop-color="#f6e620"/><stop offset="41.67%" stop-color="#f6e620"/><stop offset="42.22%" stop-color="#f6e620"/><stop offset="42.78%" stop-color="#f8e621"/><stop offset="43.33%" stop-color="#f8e621"/><stop offset="43.89%" stop-color="#f8e621"/><stop offset="44.44%" stop-color="#f8e621"/><stop offset="45%" stop-color="#f8e621"/><stop offset="45.56%" stop-color="#f8e621"/><stop offset="46.11%" stop-color="#f8e621"/><stop offset="46.67%" stop-color="#fbe723"/><stop offset="47.22%" stop-color="#fbe723"/><stop offset="47.78%" stop-color="#fbe723"/><stop offset="48.33%" stop-color="#fbe723"/><stop offset="48.89%" stop-color="#fbe723"/><stop offset="49.44%" stop-color="#fbe723"/><stop offset="50%" stop-color="#fbe723"/><stop offset="50.56%" stop-color="#fbe723"/><stop offset="51.11%" stop-color="#fbe723"/><stop offset="51.67%" stop-color="#fbe723"/><stop offset="52.22%" stop-color="#fbe723"/><stop offset="52.78%" stop-color="#fbe723"/><stop offset="53.33%" stop-color="#fbe723"/><stop offset="53.89%" stop-color="#f8e621"/><stop offset="54.44%" stop-color="#f8e621"/><stop offset="55%" stop-color="#f8e621"/><stop offset="55.56%" stop-color="#f8e621"/><stop offset="56.11%" stop-color="#f8e621"/><stop offset="56.67%" stop-color="#f8e621"/><stop offset="57.22%" stop-color="#f8e621"/><stop offset="57.78%" stop-color="#f6e620"/><stop offset="58.33%" stop-color="#f6e620"/><stop offset="58.89%" stop-color="#f6e620"/><stop offset="59.44%" stop-color="#f6e620"/><stop offset="60%" stop-color="#f4e61e"/><stop offset="60.56%" stop-color="#f4e61e"/><stop offset="61.11%" stop-color="#f4e61e"/><stop offset="61.67%" stop-color="#f4e61e"/><stop offset="62.22%" stop-color="#f1e51d"/><stop offset="62.78%" stop-color="#f1e51d"/><stop offset="63.33%" stop-color="#efe51c"/><stop offset="63.89%" stop-color="#efe51c"/><stop offset="64.44%" stop-color="#efe51c"/><stop offset="65%" stop-color="#ece51b"/><stop offset="65.56%" stop-color="#ece51b"/><stop offset="66.11%" stop-color="#eae51a"/><stop offset="66.67%" stop-color="#eae51a"/><stop offset="67.22%" stop-color="#e7e419"/><stop offset="67.78%" stop-color="#e7e419"/><stop offset="68.33%" stop-color="#e5e419"/><stop offset="68.89%" stop-color="#e5e419"/><stop offset="69.44%" stop-color="#e2e418"/><stop offset="70%" stop-color="#e2e418"/><stop offset="70.56%" stop-color="#dfe318"/><stop offset="71.11%" stop-color="#dde318"/><stop offset="71.67%" stop-color="#dde318"/><stop offset="72.22%" stop-color="#dae319"/><stop offset="72.78%" stop-color="#d8e219"/><stop offset="73.33%" stop-color="#d5e21a"/><stop offset="73.89%" stop-color="#d5e21a"/><stop offset="74.44%" stop-color="#d2e21b"/><stop offset="75%" stop-color="#d0e11c"/><stop offset="75.56%" stop-color="#cde11d"/><stop offset="76.11%" stop-color="#cae11f"/><stop offset="76.67%" stop-color="#c8e020"/><stop offset="77.22%" stop-color="#c5e021"/><stop offset="77.78%" stop-color="#c2df23"/><stop offset="78.33%" stop-color="#c0df25"/><stop offset="78.89%" stop-color="#bddf26"/><stop offset="79.44%" stop-color="#bade28"/><stop offset="80%" stop-color="#b8de29"/><stop offset="80.56%" stop-color="#b5de2b"/><stop offset="81.11%" stop-color="#b2dd2d"/><stop offset="81.67%" stop-color="#addc30"/><stop offset="82.22%" stop-color="#aadc32"/><stop offset="82.78%" stop-color="#a8db34"/><stop offset="83.33%" stop-color="#a2da37"/><stop offset="83.89%" stop-color="#a0da39"/><stop offset="84.44%" stop-color="#9bd93c"/><stop offset="85%" stop-color="#98d83e"/><stop offset="85.56%" stop-color="#93d741"/><stop offset="86.11%" stop-color="#8ed645"/><stop offset="86.67%" stop-color="#89d548"/><stop offset="87.22%" stop-color="#84d44b"/><stop offset="87.78%" stop-color="#7fd34e"/><stop offset="88.33%" stop-color="#7ad151"/><stop offset="88.89%" stop-color="#75d054"/><stop offset="89.44%" stop-color="#70cf57"/><stop offset="90%" stop-color="#69cd5b"/><stop offset="90.56%" stop-color="#63cb5f"/><stop offset="91.11%" stop-color="#5ec962"/><stop offset="91.67%" stop-color="#58c765"/><stop offset="92.22%" stop-color="#50c46a"/><stop offset="92.78%" stop-color="#4ac16d"/><stop offset="93.33%" stop-color="#42be71"/><stop offset="93.89%" stop-color="#3bbb75"/><stop offset="94.44%" stop-color="#34b679"/><stop offset="95%" stop-color="#2db27d"/><stop offset="95.56%" stop-color="#27ad81"/><stop offset="96.11%" stop-color="#22a785"/><stop offset="96.67%" stop-color="#1fa188"/><stop offset="97.22%" stop-color="#1f988b"/><stop offset="97.78%" stop-color="#218e8d"/><stop offset="98.33%" stop-color="#26818e"/><stop offset="98.89%" stop-color="#2e6f8e"/><stop offset="99.44%" stop-color="#3e4c8a"/><stop offset="100%" stop-color="#440154"/></linearGradient><clipPath id="c12"><rect x="589.3" y="401.1" width="36.2" height="50.7"/></clipPath><linearGradient id="cb" x1="0" y1="0" x2="0" y2="1"><stop offset="0%" stop-color="#fde725"/><stop offset="2.08%" stop-color="#f1e51d"/><stop offset="4.17%" stop-color="#e5e419"/><stop offset="6.25%" stop-color="#d8e219"/><stop offset="8.33%" stop-color="#c8e020"/><stop offset="10.42%" stop-color="#bade28"/><stop offset="12.5%" stop-color="#addc30"/><stop offset="14.58%" stop-color="#9dd93b"/><stop offset="16.67%" stop-color="#90d743"/><stop offset="18.75%" stop-color="#84d44b"/><stop offset="20.83%" stop-color="#75d054"/><stop offset="22.92%" stop-color="#69cd5b"/><stop offset="25%" stop-color="#5ec962"/><stop offset="27.08%" stop-color="#52c569"/><stop offset="29.17%" stop-color="#48c16e"/><stop offset="31.25%" stop-color="#3fbc73"/><stop offset="33.33%" stop-color="#35b779"/><stop offset="35.42%" stop-color="#2eb37c"/><stop offset="37.5%" stop-color="#28ae80"/><stop offset="39.58%" stop-color="#23a983"/><stop offset="41.67%" stop-color="#20a486"/><stop offset="43.75%" stop-color="#1fa088"/><stop offset="45.83%" stop-color="#1f9a8a"/><stop offset="47.92%" stop-color="#1f958b"/><stop offset="50%" stop-color="#21918c"/><stop offset="52.08%" stop-color="#228b8d"/><stop offset="54.17%" stop-color="#24868e"/><stop offset="56.25%" stop-color="#26828e"/><stop offset="58.33%" stop-color="#287c8e"/><stop offset="60.42%" stop-color="#2a778e"/><stop offset="62.5%" stop-color="#2c728e"/><stop offset="64.58%" stop-color="#2e6d8e"/><stop offset="66.67%" stop-color="#31688e"/><stop offset="68.75%" stop-color="#33638d"/><stop offset="70.83%" stop-color="#365d8d"/><stop offset="72.92%" stop-color="#38588c"/><stop offset="75%" stop-color="#3b528b"/><stop offset="77.08%" stop-color="#3e4c8a"/><stop offset="79.17%" stop-color="#404688"/><stop offset="81.25%" stop-color="#424086"/><stop offset="83.33%" stop-color="#443983"/><stop offset="85.42%" stop-color="#46337f"/><stop offset="87.5%" stop-color="#472d7b"/><stop offset="89.58%" stop-color="#482576"/><stop offset="91.67%" stop-color="#481f70"/><stop offset="93.75%" stop-color="#48186a"/><stop offset="95.83%" stop-color="#471063"/><stop offset="97.92%" stop-color="#46085c"/><stop offset="100%" stop-color="#440154"/></linearGradient></defs>
<rect width="685" height="478" fill="#fff"/>
<path d="M35.5 55.4v2.96M58.12 55.4v2.96M80.75 55.4v2.96M103.38 55.4v2.96M126 55.4v2.96M148.62 55.4v2.96M171.25 55.4v2.96M193.88 55.4v2.96M216.5 55.4v2.96" stroke="#000" stroke-width="0.68"/>
<path d="M35.5 50.57h-2.96M35.5 34.54h-2.96M35.5 18.5h-2.96" stroke="#000" stroke-width="0.68"/>
<path d="M35.5 55.4h-1.69M35.5 54.13h-1.69M35.5 53.06h-1.69M35.5 52.13h-1.69M35.5 51.31h-1.69M35.5 45.75h-1.69M35.5 42.92h-1.69M35.5 40.92h-1.69M35.5 39.36h-1.69M35.5 38.09h-1.69M35.5 37.02h-1.69M35.5 36.09h-1.69M35.5 35.27h-1.69M35.5 29.71h-1.69M35.5 26.89h-1.69M35.5 24.88h-1.69M35.5 23.33h-1.69M35.5 22.06h-1.69M35.5 20.98h-1.69M35.5 20.05h-1.69M35.5 19.23h-1.69" stroke="#000" stroke-width="0.75"/>
<rect x="35.5" y="18.5" width="181" height="36.9" fill="none" stroke="#000" stroke-width="0.68" stroke-linejoin="miter"/>
<rect x="35.5" y="73.4" width="181" height="50.8" fill="#440154"/>
<path d="M35.5 124.2v2.96M58.12 124.2v2.96M80.75 124.2v2.96M103.38 124.2v2.96M126 124.2v2.96M148.62 124.2v2.96M171.25 124.2v2.96M193.88 124.2v2.96M216.5 124.2v2.96" stroke="#000" stroke-width="0.68"/>
<path d="M35.5 124.2h-2.96M35.5 98.8h-2.96M35.5 73.4h-2.96" stroke="#000" stroke-width="0.68"/>
<rect x="35.5" y="73.4" width="181" height="50.8" fill="none" stroke="#000" stroke-width="0.68" stroke-linejoin="miter"/>
<path d="M246.04 124.3v2.96M261.77 124.3v2.96M277.5 124.3v2.96" stroke="#000" stroke-width="0.68"/>
<path d="M241.3 124.3v1.69M242.55 124.3v1.69M243.6 124.3v1.69M244.51 124.3v1.69M245.32 124.3v1.69M250.77 124.3v1.69M253.54 124.3v1.69M255.51 124.3v1.69M257.03 124.3v1.69M258.28 124.3v1.69M259.33 124.3v1.69M260.24 124.3v1.69M261.05 124.3v1.69M266.5 124.3v1.69M269.27 124.3v1.69M271.24 124.3v1.69M272.76 124.3v1.69M274.01 124.3v1.69M275.06 124.3v1.69M275.98 124.3v1.69M276.78 124.3v1.69" stroke="#000" stroke-width="0.75"/>
<path d="M241.3 124.3h-2.96M241.3 98.95h-2.96M241.3 73.6h-2.96" stroke="#000" stroke-width="0.68"/>
<rect x="241.3" y="73.6" width="36.2" height="50.7" fill="none" stroke="#000" stroke-width="0.68" stroke-linejoin="miter"/>
<rect x="292.6" y="3.5" width="6.9" height="135.2" fill="url(#cb)"/>
<path d="M299.5 121.01h2.96M299.5 62.26h2.96M299.5 3.5h2.96" stroke="#000" stroke-width="0.68"/>
<path d="M299.5 138.7h1.69M299.5 134.05h1.69M299.5 130.11h1.69M299.5 126.71h1.69M299.5 123.7h1.69M299.5 103.33h1.69M299.5 92.98h1.69M299.5 85.64h1.69M299.5 79.94h1.69M299.5 75.29h1.69M299.5 71.36h1.69M299.5 67.95h1.69M299.5 64.94h1.69M299.5 44.57h1.69M299.5 34.22h1.69M299.5 26.88h1.69M299.5 21.19h1.69M299.5 16.54h1.69M299.5 12.6h1.69M299.5 9.19h1.69M299.5 6.19h1.69" stroke="#000" stroke-width="0.75"/>
<rect x="292.6" y="3.5" width="6.9" height="135.2" fill="none" stroke="#000" stroke-width="0.68" stroke-linejoin="miter"/>
<path d="M390.78 75.4 L390.78 30.57 L391.42 30 L392.06 29.47 L392.69 28.99 L393.33 28.54 L393.97 28.12 L394.61 27.72 L395.25 27.36 L395.88 27.01 L396.52 26.68 L397.16 26.37 L397.8 26.08 L398.44 25.8 L399.08 25.54 L399.71 25.29 L400.35 25.05 L400.99 24.82 L401.63 24.61 L402.27 24.4 L402.9 24.2 L403.54 24.01 L404.18 23.83 L404.82 23.66 L405.46 23.49 L406.1 23.33 L406.73 23.18 L407.37 23.04 L408.01 22.9 L408.65 22.77 L409.29 22.64 L409.92 22.52 L410.56 22.41 L411.2 22.29 L411.84 22.19 L412.48 22.09 L413.11 21.99 L413.75 21.9 L414.39 21.82 L415.03 21.74 L415.67 21.66 L416.31 21.58 L416.94 21.52 L417.58 21.45 L418.22 21.39 L418.86 21.33 L419.5 21.28 L420.13 21.23 L420.77 21.18 L421.41 21.14 L422.05 21.1 L422.69 21.07 L423.33 21.04 L423.96 21.01 L424.6 20.99 L425.24 20.97 L425.88 20.95 L426.52 20.93 L427.15 20.92 L427.79 20.92 L428.43 20.91 L429.07 20.91 L429.71 20.92 L430.35 20.92 L430.98 20.93 L431.62 20.95 L432.26 20.97 L432.9 20.99 L433.54 21.01 L434.17 21.04 L434.81 21.07 L435.45 21.1 L436.09 21.14 L436.73 21.18 L437.37 21.23 L438 21.28 L438.64 21.33 L439.28 21.39 L439.92 21.45 L440.56 21.52 L441.19 21.58 L441.83 21.66 L442.47 21.74 L443.11 21.82 L443.75 21.9 L444.39 21.99 L445.02 22.09 L445.66 22.19 L446.3 22.29 L446.94 22.41 L447.58 22.52 L448.21 22.64 L448.85 22.77 L449.49 22.9 L450.13 23.04 L450.77 23.18 L451.4 23.33 L452.04 23.49 L452.68 23.66 L453.32 23.83 L453.96 24.01 L454.6 24.2 L455.23 24.4 L455.87 24.61 L456.51 24.82 L457.15 25.05 L457.79 25.29 L458.42 25.54 L459.06 25.8 L459.7 26.08 L460.34 26.37 L460.98 26.68 L461.62 27.01 L462.25 27.36 L462.89 27.72 L463.53 28.12 L464.17 28.54 L464.81 28.99 L465.44 29.47 L466.08 30 L466.72 30.57 L466.72 75.4" fill="none" stroke="#1f77b4" stroke-width="1.27" stroke-linejoin="round" clip-path="url(#c3)"/>
<path d="M383.5 55.4v2.96M406.12 55.4v2.96M428.75 55.4v2.96M451.38 55.4v2.96M474 55.4v2.96M496.62 55.4v2.96M519.25 55.4v2.96M541.88 55.4v2.96M564.5 55.4v2.96" stroke="#000" stroke-width="0.68"/>
<path d="M383.5 50.57h-2.96M383.5 34.54h-2.96M383.5 18.5h-2.96" stroke="#000" stroke-width="0.68"/>
<path d="M383.5 55.4h-1.69M383.5 54.13h-1.69M383.5 53.06h-1.69M383.5 52.13h-1.69M383.5 51.31h-1.69M383.5 45.75h-1.69M383.5 42.92h-1.69M383.5 40.92h-1.69M383.5 39.36h-1.69M383.5 38.09h-1.69M383.5 37.02h-1.69M383.5 36.09h-1.69M383.5 35.27h-1.69M383.5 29.71h-1.69M383.5 26.89h-1.69M383.5 24.88h-1.69M383.5 23.33h-1.69M383.5 22.06h-1.69M383.5 20.98h-1.69M383.5 20.05h-1.69M383.5 19.23h-1.69" stroke="#000" stroke-width="0.75"/>
<rect x="383.5" y="18.5" width="181" height="36.9" fill="none" stroke="#000" stroke-width="0.68" stroke-linejoin="miter"/>
<rect x="383.5" y="73.4" width="181" height="50.8" fill="#440154"/>
<path d="M383.79 73.4 L383.79 74.42 L384.08 74.42 L384.08 75.43 L384.36 75.43 L384.36 76.45 L384.65 76.45 L384.65 77.46 L384.94 77.46 L384.94 78.48 L385.23 78.48 L385.23 79.5 L385.52 79.5 L385.52 80.51 L385.81 80.51 L385.81 81.53 L386.1 81.53 L386.1 82.54 L386.39 82.54 L386.39 83.56 L386.68 83.56 L386.68 84.58 L386.97 84.58 L386.97 85.59 L387.26 85.59 L387.26 86.61 L387.55 86.61 L387.55 87.62 L387.84 87.62 L387.84 88.64 L388.13 88.64 L388.13 89.66 L388.42 89.66 L388.42 90.67 L388.71 90.67 L388.71 91.69 L389.01 91.69 L389.01 92.7 L389.3 92.7 L389.3 93.72 L389.59 93.72 L389.59 94.74 L389.89 94.74 L389.89 95.75 L390.19 95.75 L390.19 96.77 L390.48 96.77 L390.48 97.78 L390.78 97.78 L390.78 98.8 L391.08 98.8 L391.08 99.82 L391.38 99.82 L391.38 100.83 L391.68 100.83 L391.68 101.85 L391.98 101.85 L391.98 102.86 L392.28 102.86 L392.28 103.88 L392.58 103.88 L392.58 104.9 L392.88 104.9 L392.88 105.91 L393.19 105.91 L393.19 106.93 L393.49 106.93 L393.49 107.94 L393.8 107.94 L393.8 108.96 L394.11 108.96 L394.11 109.98 L394.42 109.98 L394.42 110.99 L394.73 110.99 L394.73 112.01 L395.04 112.01 L395.04 113.02 L395.35 113.02 L395.35 114.04 L395.67 114.04 L395.67 115.06 L395.99 115.06 L395.99 116.07 L396.3 116.07 L396.3 117.09 L396.62 117.09 L396.62 118.1 L396.95 118.1 L396.95 119.12 L397.27 119.12 L397.27 120.14 L397.6 120.14 L397.6 121.15 L397.92 121.15 L397.92 122.17 L398.25 122.17 L398.25 123.18 L398.58 123.18 L398.58 124.2 L458.92 124.2 L458.92 123.18 L459.25 123.18 L459.25 122.17 L459.58 122.17 L459.58 121.15 L459.9 121.15 L459.9 120.14 L460.23 120.14 L460.23 119.12 L460.55 119.12 L460.55 118.1 L460.88 118.1 L460.88 117.09 L461.2 117.09 L461.2 116.07 L461.51 116.07 L461.51 115.06 L461.83 115.06 L461.83 114.04 L462.15 114.04 L462.15 113.02 L462.46 113.02 L462.46 112.01 L462.77 112.01 L462.77 110.99 L463.08 110.99 L463.08 109.98 L463.39 109.98 L463.39 108.96 L463.7 108.96 L463.7 107.94 L464.01 107.94 L464.01 106.93 L464.31 106.93 L464.31 105.91 L464.62 105.91 L464.62 104.9 L464.92 104.9 L464.92 103.88 L465.22 103.88 L465.22 102.86 L465.52 102.86 L465.52 101.85 L465.82 101.85 L465.82 100.83 L466.12 100.83 L466.12 99.82 L466.42 99.82 L466.42 98.8 L466.72 98.8 L466.72 97.78 L467.02 97.78 L467.02 96.77 L467.31 96.77 L467.31 95.75 L467.61 95.75 L467.61 94.74 L467.91 94.74 L467.91 93.72 L468.2 93.72 L468.2 92.7 L468.49 92.7 L468.49 91.69 L468.79 91.69 L468.79 90.67 L469.08 90.67 L469.08 89.66 L469.37 89.66 L469.37 88.64 L469.66 88.64 L469.66 87.62 L469.95 87.62 L469.95 86.61 L470.24 86.61 L470.24 85.59 L470.53 85.59 L470.53 84.58 L470.82 84.58 L470.82 83.56 L471.11 83.56 L471.11 82.54 L471.4 82.54 L471.4 81.53 L471.69 81.53 L471.69 80.51 L471.98 80.51 L471.98 79.5 L472.27 79.5 L472.27 78.48 L472.56 78.48 L472.56 77.46 L472.85 77.46 L472.85 76.45 L473.14 76.45 L473.14 75.43 L473.42 75.43 L473.42 74.42 L473.71 74.42 L473.71 73.4Z" fill="url(#g1)"/>
<path d="M383.5 124.2v2.96M406.12 124.2v2.96M428.75 124.2v2.96M451.38 124.2v2.96M474 124.2v2.96M496.62 124.2v2.96M519.25 124.2v2.96M541.88 124.2v2.96M564.5 124.2v2.96" stroke="#000" stroke-width="0.68"/>
<path d="M383.5 124.2h-2.96M383.5 98.8h-2.96M383.5 73.4h-2.96" stroke="#000" stroke-width="0.68"/>
<rect x="383.5" y="73.4" width="181" height="50.8" fill="none" stroke="#000" stroke-width="0.68" stroke-linejoin="miter"/>
<path d="M623.13 68.6 L623.13 129.3" fill="none" stroke="#1f77b4" stroke-width="1.27" stroke-linejoin="round" clip-path="url(#c4)"/>
<path d="M594.04 124.3v2.96M609.77 124.3v2.96M625.5 124.3v2.96" stroke="#000" stroke-width="0.68"/>
<path d="M589.3 124.3v1.69M590.55 124.3v1.69M591.6 124.3v1.69M592.51 124.3v1.69M593.32 124.3v1.69M598.77 124.3v1.69M601.54 124.3v1.69M603.51 124.3v1.69M605.03 124.3v1.69M606.28 124.3v1.69M607.33 124.3v1.69M608.24 124.3v1.69M609.05 124.3v1.69M614.5 124.3v1.69M617.27 124.3v1.69M619.24 124.3v1.69M620.76 124.3v1.69M622.01 124.3v1.69M623.06 124.3v1.69M623.98 124.3v1.69M624.78 124.3v1.69" stroke="#000" stroke-width="0.75"/>
<path d="M589.3 124.3h-2.96M589.3 98.95h-2.96M589.3 73.6h-2.96" stroke="#000" stroke-width="0.68"/>
<rect x="589.3" y="73.6" width="36.2" height="50.7" fill="none" stroke="#000" stroke-width="0.68" stroke-linejoin="miter"/>
<rect x="641.3" y="3.5" width="6.9" height="135.2" fill="url(#cb)"/>
<path d="M648.2 121.01h2.96M648.2 62.26h2.96M648.2 3.5h2.96" stroke="#000" stroke-width="0.68"/>
<path d="M648.2 138.7h1.69M648.2 134.05h1.69M648.2 130.11h1.69M648.2 126.71h1.69M648.2 123.7h1.69M648.2 103.33h1.69M648.2 92.98h1.69M648.2 85.64h1.69M648.2 79.94h1.69M648.2 75.29h1.69M648.2 71.36h1.69M648.2 67.95h1.69M648.2 64.94h1.69M648.2 44.57h1.69M648.2 34.22h1.69M648.2 26.88h1.69M648.2 21.19h1.69M648.2 16.54h1.69M648.2 12.6h1.69M648.2 9.19h1.69M648.2 6.19h1.69" stroke="#000" stroke-width="0.75"/>
<rect x="641.3" y="3.5" width="6.9" height="135.2" fill="none" stroke="#000" stroke-width="0.68" stroke-linejoin="miter"/>
<path d="M37.43 239.15 L37.43 210.49 L38.16 208.27 L38.89 206.59 L39.62 205.24 L40.34 204.11 L41.07 203.15 L41.8 202.31 L42.53 201.56 L43.26 200.89 L43.98 200.28 L44.71 199.72 L45.44 199.21 L46.17 198.74 L46.9 198.3 L47.62 197.9 L48.35 197.52 L49.08 197.16 L49.81 196.83 L50.54 196.51 L51.26 196.21 L51.99 195.93 L52.72 195.67 L53.45 195.42 L54.18 195.18 L54.9 194.95 L55.63 194.74 L56.36 194.53 L57.09 194.34 L57.82 194.15 L58.54 193.98 L59.27 193.81 L60 193.65 L60.73 193.5 L61.46 193.36 L62.18 193.22 L62.91 193.09 L63.64 192.97 L64.37 192.86 L65.1 192.75 L65.83 192.64 L66.55 192.55 L67.28 192.45 L68.01 192.37 L68.74 192.29 L69.47 192.21 L70.19 192.14 L70.92 192.08 L71.65 192.02 L72.38 191.96 L73.11 191.91 L73.83 191.87 L74.56 191.83 L75.29 191.79 L76.02 191.76 L76.75 191.73 L77.47 191.71 L78.2 191.69 L78.93 191.68 L79.66 191.67 L80.39 191.66 L81.11 191.66 L81.84 191.67 L82.57 191.68 L83.3 191.69 L84.03 191.71 L84.75 191.73 L85.48 191.76 L86.21 191.79 L86.94 191.83 L87.67 191.87 L88.39 191.91 L89.12 191.96 L89.85 192.02 L90.58 192.08 L91.31 192.14 L92.03 192.21 L92.76 192.29 L93.49 192.37 L94.22 192.45 L94.95 192.55 L95.67 192.64 L96.4 192.75 L97.13 192.86 L97.86 192.97 L98.59 193.09 L99.32 193.22 L100.04 193.36 L100.77 193.5 L101.5 193.65 L102.23 193.81 L102.96 193.98 L103.68 194.15 L104.41 194.34 L105.14 194.53 L105.87 194.74 L106.6 194.95 L107.32 195.18 L108.05 195.42 L108.78 195.67 L109.51 195.93 L110.24 196.21 L110.96 196.51 L111.69 196.83 L112.42 197.16 L113.15 197.52 L113.88 197.9 L114.6 198.3 L115.33 198.74 L116.06 199.21 L116.79 199.72 L117.52 200.28 L118.24 200.89 L118.97 201.56 L119.7 202.31 L120.43 203.15 L121.16 204.11 L121.88 205.24 L122.61 206.59 L123.34 208.27 L124.07 210.49 L124.07 239.15" fill="none" stroke="#1f77b4" stroke-width="1.27" stroke-linejoin="round" clip-path="url(#c5)"/>
<path d="M35.5 219.15v2.96M58.12 219.15v2.96M80.75 219.15v2.96M103.38 219.15v2.96M126 219.15v2.96M148.62 219.15v2.96M171.25 219.15v2.96M193.88 219.15v2.96M216.5 219.15v2.96" stroke="#000" stroke-width="0.68"/>
<path d="M35.5 214.32h-2.96M35.5 198.29h-2.96M35.5 182.25h-2.96" stroke="#000" stroke-width="0.68"/>
<path d="M35.5 219.15h-1.69M35.5 217.88h-1.69M35.5 216.81h-1.69M35.5 215.88h-1.69M35.5 215.06h-1.69M35.5 209.5h-1.69M35.5 206.67h-1.69M35.5 204.67h-1.69M35.5 203.11h-1.69M35.5 201.84h-1.69M35.5 200.77h-1.69M35.5 199.84h-1.69M35.5 199.02h-1.69M35.5 193.46h-1.69M35.5 190.64h-1.69M35.5 188.63h-1.69M35.5 187.08h-1.69M35.5 185.81h-1.69M35.5 184.73h-1.69M35.5 183.8h-1.69M35.5 182.98h-1.69" stroke="#000" stroke-width="0.75"/>
<rect x="35.5" y="182.25" width="181" height="36.9" fill="none" stroke="#000" stroke-width="0.68" stroke-linejoin="miter"/>
<rect x="35.5" y="237.15" width="181" height="50.8" fill="#440154"/>
<path d="M35.58 237.15 L35.58 238.17 L35.65 238.17 L35.65 239.18 L35.73 239.18 L35.73 240.2 L35.81 240.2 L35.81 241.21 L35.89 241.21 L35.89 242.23 L35.96 242.23 L35.96 243.25 L36.04 243.25 L36.04 244.26 L36.12 244.26 L36.12 245.28 L36.19 245.28 L36.19 246.29 L36.27 246.29 L36.27 247.31 L36.35 247.31 L36.35 248.33 L36.43 248.33 L36.43 249.34 L36.5 249.34 L36.5 250.36 L36.58 250.36 L36.58 251.37 L36.66 251.37 L36.66 252.39 L36.74 252.39 L36.74 253.41 L36.81 253.41 L36.81 254.42 L36.89 254.42 L36.89 255.44 L36.97 255.44 L36.97 256.45 L37.04 256.45 L37.04 257.47 L37.12 257.47 L37.12 258.49 L37.2 258.49 L37.2 259.5 L37.28 259.5 L37.28 260.52 L37.35 260.52 L37.35 261.53 L37.43 261.53 L37.43 262.55 L37.51 262.55 L37.51 263.57 L37.59 263.57 L37.59 264.58 L37.66 264.58 L37.66 265.6 L37.74 265.6 L37.74 266.61 L37.82 266.61 L37.82 267.63 L37.9 267.63 L37.9 268.65 L37.97 268.65 L37.97 269.66 L38.05 269.66 L38.05 270.68 L38.13 270.68 L38.13 271.69 L38.21 271.69 L38.21 272.71 L38.28 272.71 L38.28 273.73 L38.36 273.73 L38.36 274.74 L38.44 274.74 L38.44 275.76 L38.52 275.76 L38.52 276.77 L38.59 276.77 L38.59 277.79 L38.67 277.79 L38.67 278.81 L38.75 278.81 L38.75 279.82 L38.83 279.82 L38.83 280.84 L38.9 280.84 L38.9 281.85 L38.98 281.85 L38.98 282.87 L39.06 282.87 L39.06 283.89 L39.14 283.89 L39.14 284.9 L39.22 284.9 L39.22 285.92 L39.29 285.92 L39.29 286.93 L39.37 286.93 L39.37 287.95 L122.13 287.95 L122.13 286.93 L122.21 286.93 L122.21 285.92 L122.28 285.92 L122.28 284.9 L122.36 284.9 L122.36 283.89 L122.44 283.89 L122.44 282.87 L122.52 282.87 L122.52 281.85 L122.6 281.85 L122.6 280.84 L122.67 280.84 L122.67 279.82 L122.75 279.82 L122.75 278.81 L122.83 278.81 L122.83 277.79 L122.91 277.79 L122.91 276.77 L122.98 276.77 L122.98 275.76 L123.06 275.76 L123.06 274.74 L123.14 274.74 L123.14 273.73 L123.22 273.73 L123.22 272.71 L123.29 272.71 L123.29 271.69 L123.37 271.69 L123.37 270.68 L123.45 270.68 L123.45 269.66 L123.53 269.66 L123.53 268.65 L123.6 268.65 L123.6 267.63 L123.68 267.63 L123.68 266.61 L123.76 266.61 L123.76 265.6 L123.84 265.6 L123.84 264.58 L123.91 264.58 L123.91 263.57 L123.99 263.57 L123.99 262.55 L124.07 262.55 L124.07 261.53 L124.15 261.53 L124.15 260.52 L124.22 260.52 L124.22 259.5 L124.3 259.5 L124.3 258.49 L124.38 258.49 L124.38 257.47 L124.46 257.47 L124.46 256.45 L124.53 256.45 L124.53 255.44 L124.61 255.44 L124.61 254.42 L124.69 254.42 L124.69 253.41 L124.76 253.41 L124.76 252.39 L124.84 252.39 L124.84 251.37 L124.92 251.37 L124.92 250.36 L125 250.36 L125 249.34 L125.07 249.34 L125.07 248.33 L125.15 248.33 L125.15 247.31 L125.23 247.31 L125.23 246.29 L125.31 246.29 L125.31 245.28 L125.38 245.28 L125.38 244.26 L125.46 244.26 L125.46 243.25 L125.54 243.25 L125.54 242.23 L125.61 242.23 L125.61 241.21 L125.69 241.21 L125.69 240.2 L125.77 240.2 L125.77 239.18 L125.85 239.18 L125.85 238.17 L125.92 238.17 L125.92 237.15Z" fill="url(#g2)"/>
<path d="M35.5 287.95v2.96M58.12 287.95v2.96M80.75 287.95v2.96M103.38 287.95v2.96M126 287.95v2.96M148.62 287.95v2.96M171.25 287.95v2.96M193.88 287.95v2.96M216.5 287.95v2.96" stroke="#000" stroke-width="0.68"/>
<path d="M35.5 287.95h-2.96M35.5 262.55h-2.96M35.5 237.15h-2.96" stroke="#000" stroke-width="0.68"/>
<rect x="35.5" y="237.15" width="181" height="50.8" fill="none" stroke="#000" stroke-width="0.68" stroke-linejoin="miter"/>
<path d="M268.27 232.35 L268.27 293.05" fill="none" stroke="#1f77b4" stroke-width="1.27" stroke-linejoin="round" clip-path="url(#c6)"/>
<path d="M246.04 288.05v2.96M261.77 288.05v2.96M277.5 288.05v2.96" stroke="#000" stroke-width="0.68"/>
<path d="M241.3 288.05v1.69M242.55 288.05v1.69M243.6 288.05v1.69M244.51 288.05v1.69M245.32 288.05v1.69M250.77 288.05v1.69M253.54 288.05v1.69M255.51 288.05v1.69M257.03 288.05v1.69M258.28 288.05v1.69M259.33 288.05v1.69M260.24 288.05v1.69M261.05 288.05v1.69M266.5 288.05v1.69M269.27 288.05v1.69M271.24 288.05v1.69M272.76 288.05v1.69M274.01 288.05v1.69M275.06 288.05v1.69M275.98 288.05v1.69M276.78 288.05v1.69" stroke="#000" stroke-width="0.75"/>
<path d="M241.3 288.05h-2.96M241.3 262.7h-2.96M241.3 237.35h-2.96" stroke="#000" stroke-width="0.68"/>
<rect x="241.3" y="237.35" width="36.2" height="50.7" fill="none" stroke="#000" stroke-width="0.68" stroke-linejoin="miter"/>
<rect x="292.6" y="167.25" width="6.9" height="135.2" fill="url(#cb)"/>
<path d="M299.5 284.76h2.96M299.5 226.01h2.96M299.5 167.25h2.96" stroke="#000" stroke-width="0.68"/>
<path d="M299.5 302.45h1.69M299.5 297.8h1.69M299.5 293.86h1.69M299.5 290.46h1.69M299.5 287.45h1.69M299.5 267.08h1.69M299.5 256.73h1.69M299.5 249.39h1.69M299.5 243.69h1.69M299.5 239.04h1.69M299.5 235.11h1.69M299.5 231.7h1.69M299.5 228.69h1.69M299.5 208.32h1.69M299.5 197.97h1.69M299.5 190.63h1.69M299.5 184.94h1.69M299.5 180.29h1.69M299.5 176.35h1.69M299.5 172.94h1.69M299.5 169.94h1.69" stroke="#000" stroke-width="0.75"/>
<rect x="292.6" y="167.25" width="6.9" height="135.2" fill="none" stroke="#000" stroke-width="0.68" stroke-linejoin="miter"/>
<path d="M396.4 239.15 L396.4 189.08 L396.94 188.81 L397.49 188.56 L398.03 188.32 L398.58 188.08 L399.12 187.86 L399.66 187.65 L400.21 187.44 L400.75 187.24 L401.29 187.06 L401.84 186.87 L402.38 186.7 L402.92 186.53 L403.47 186.37 L404.01 186.22 L404.56 186.07 L405.1 185.92 L405.64 185.78 L406.19 185.65 L406.73 185.52 L407.27 185.4 L407.82 185.28 L408.36 185.16 L408.91 185.05 L409.45 184.95 L409.99 184.85 L410.54 184.75 L411.08 184.65 L411.62 184.56 L412.17 184.48 L412.71 184.39 L413.25 184.31 L413.8 184.24 L414.34 184.16 L414.89 184.09 L415.43 184.02 L415.97 183.96 L416.52 183.9 L417.06 183.84 L417.6 183.79 L418.15 183.73 L418.69 183.69 L419.24 183.64 L419.78 183.6 L420.32 183.55 L420.87 183.52 L421.41 183.48 L421.95 183.45 L422.5 183.42 L423.04 183.39 L423.58 183.36 L424.13 183.34 L424.67 183.32 L425.22 183.3 L425.76 183.29 L426.3 183.28 L426.85 183.27 L427.39 183.26 L427.93 183.25 L428.48 183.25 L429.02 183.25 L429.57 183.25 L430.11 183.26 L430.65 183.27 L431.2 183.28 L431.74 183.29 L432.28 183.3 L432.83 183.32 L433.37 183.34 L433.92 183.36 L434.46 183.39 L435 183.42 L435.55 183.45 L436.09 183.48 L436.63 183.52 L437.18 183.55 L437.72 183.6 L438.26 183.64 L438.81 183.69 L439.35 183.73 L439.9 183.79 L440.44 183.84 L440.98 183.9 L441.53 183.96 L442.07 184.02 L442.61 184.09 L443.16 184.16 L443.7 184.24 L444.25 184.31 L444.79 184.39 L445.33 184.48 L445.88 184.56 L446.42 184.65 L446.96 184.75 L447.51 184.85 L448.05 184.95 L448.59 185.05 L449.14 185.16 L449.68 185.28 L450.23 185.4 L450.77 185.52 L451.31 185.65 L451.86 185.78 L452.4 185.92 L452.94 186.07 L453.49 186.22 L454.03 186.37 L454.58 186.53 L455.12 186.7 L455.66 186.87 L456.21 187.06 L456.75 187.24 L457.29 187.44 L457.84 187.65 L458.38 187.86 L458.92 188.08 L459.47 188.32 L460.01 188.56 L460.56 188.81 L461.1 189.08 L461.1 239.15" fill="none" stroke="#1f77b4" stroke-width="1.27" stroke-linejoin="round" clip-path="url(#c7)"/>
<path d="M383.5 219.15v2.96M406.12 219.15v2.96M428.75 219.15v2.96M451.38 219.15v2.96M474 219.15v2.96M496.62 219.15v2.96M519.25 219.15v2.96M541.88 219.15v2.96M564.5 219.15v2.96" stroke="#000" stroke-width="0.68"/>
<path d="M383.5 214.32h-2.96M383.5 198.29h-2.96M383.5 182.25h-2.96" stroke="#000" stroke-width="0.68"/>
<path d="M383.5 219.15h-1.69M383.5 217.88h-1.69M383.5 216.81h-1.69M383.5 215.88h-1.69M383.5 215.06h-1.69M383.5 209.5h-1.69M383.5 206.67h-1.69M383.5 204.67h-1.69M383.5 203.11h-1.69M383.5 201.84h-1.69M383.5 200.77h-1.69M383.5 199.84h-1.69M383.5 199.02h-1.69M383.5 193.46h-1.69M383.5 190.64h-1.69M383.5 188.63h-1.69M383.5 187.08h-1.69M383.5 185.81h-1.69M383.5 184.73h-1.69M383.5 183.8h-1.69M383.5 182.98h-1.69" stroke="#000" stroke-width="0.75"/>
<rect x="383.5" y="182.25" width="181" height="36.9" fill="none" stroke="#000" stroke-width="0.68" stroke-linejoin="miter"/>
<rect x="383.5" y="237.15" width="181" height="50.8" fill="#440154"/>
<path d="M384 237.15 L384 238.17 L384.5 238.17 L384.5 239.18 L385 239.18 L385 240.2 L385.5 240.2 L385.5 241.21 L386 241.21 L386 242.23 L386.5 242.23 L386.5 243.25 L387 243.25 L387 244.26 L387.5 244.26 L387.5 245.28 L388.01 245.28 L388.01 246.29 L388.51 246.29 L388.51 247.31 L389.02 247.31 L389.02 248.33 L389.53 248.33 L389.53 249.34 L390.04 249.34 L390.04 250.36 L390.56 250.36 L390.56 251.37 L391.07 251.37 L391.07 252.39 L391.59 252.39 L391.59 253.41 L392.11 253.41 L392.11 254.42 L392.63 254.42 L392.63 255.44 L393.16 255.44 L393.16 256.45 L393.69 256.45 L393.69 257.47 L394.22 257.47 L394.22 258.49 L394.76 258.49 L394.76 259.5 L395.3 259.5 L395.3 260.52 L395.85 260.52 L395.85 261.53 L396.4 261.53 L396.4 262.55 L396.96 262.55 L396.96 263.57 L397.52 263.57 L397.52 264.58 L398.09 264.58 L398.09 265.6 L398.66 265.6 L398.66 266.61 L399.24 266.61 L399.24 267.63 L399.83 267.63 L399.83 268.65 L400.42 268.65 L400.42 269.66 L401.03 269.66 L401.03 270.68 L401.64 270.68 L401.64 271.69 L402.26 271.69 L402.26 272.71 L402.89 272.71 L402.89 273.73 L403.54 273.73 L403.54 274.74 L404.19 274.74 L404.19 275.76 L404.86 275.76 L404.86 276.77 L405.55 276.77 L405.55 277.79 L406.25 277.79 L406.25 278.81 L406.97 278.81 L406.97 279.82 L407.7 279.82 L407.7 280.84 L408.46 280.84 L408.46 281.85 L409.25 281.85 L409.25 282.87 L410.06 282.87 L410.06 283.89 L410.9 283.89 L410.9 284.9 L411.78 284.9 L411.78 285.92 L412.7 285.92 L412.7 286.93 L413.67 286.93 L413.67 287.95 L443.83 287.95 L443.83 286.93 L444.8 286.93 L444.8 285.92 L445.72 285.92 L445.72 284.9 L446.6 284.9 L446.6 283.89 L447.44 283.89 L447.44 282.87 L448.25 282.87 L448.25 281.85 L449.04 281.85 L449.04 280.84 L449.8 280.84 L449.8 279.82 L450.53 279.82 L450.53 278.81 L451.25 278.81 L451.25 277.79 L451.95 277.79 L451.95 276.77 L452.64 276.77 L452.64 275.76 L453.31 275.76 L453.31 274.74 L453.96 274.74 L453.96 273.73 L454.61 273.73 L454.61 272.71 L455.24 272.71 L455.24 271.69 L455.86 271.69 L455.86 270.68 L456.47 270.68 L456.47 269.66 L457.08 269.66 L457.08 268.65 L457.67 268.65 L457.67 267.63 L458.26 267.63 L458.26 266.61 L458.84 266.61 L458.84 265.6 L459.41 265.6 L459.41 264.58 L459.98 264.58 L459.98 263.57 L460.54 263.57 L460.54 262.55 L461.1 262.55 L461.1 261.53 L461.65 261.53 L461.65 260.52 L462.2 260.52 L462.2 259.5 L462.74 259.5 L462.74 258.49 L463.28 258.49 L463.28 257.47 L463.81 257.47 L463.81 256.45 L464.34 256.45 L464.34 255.44 L464.87 255.44 L464.87 254.42 L465.39 254.42 L465.39 253.41 L465.91 253.41 L465.91 252.39 L466.43 252.39 L466.43 251.37 L466.94 251.37 L466.94 250.36 L467.46 250.36 L467.46 249.34 L467.97 249.34 L467.97 248.33 L468.48 248.33 L468.48 247.31 L468.99 247.31 L468.99 246.29 L469.49 246.29 L469.49 245.28 L470 245.28 L470 244.26 L470.5 244.26 L470.5 243.25 L471 243.25 L471 242.23 L471.5 242.23 L471.5 241.21 L472 241.21 L472 240.2 L472.5 240.2 L472.5 239.18 L473 239.18 L473 238.17 L473.5 238.17 L473.5 237.15Z" fill="url(#g3)"/>
<path d="M383.5 287.95v2.96M406.12 287.95v2.96M428.75 287.95v2.96M451.38 287.95v2.96M474 287.95v2.96M496.62 287.95v2.96M519.25 287.95v2.96M541.88 287.95v2.96M564.5 287.95v2.96" stroke="#000" stroke-width="0.68"/>
<path d="M383.5 287.95h-2.96M383.5 262.55h-2.96M383.5 237.15h-2.96" stroke="#000" stroke-width="0.68"/>
<rect x="383.5" y="237.15" width="181" height="50.8" fill="none" stroke="#000" stroke-width="0.68" stroke-linejoin="miter"/>
<path d="M624.52 232.35 L624.52 293.05" fill="none" stroke="#1f77b4" stroke-width="1.27" stroke-linejoin="round" clip-path="url(#c8)"/>
<path d="M594.04 288.05v2.96M609.77 288.05v2.96M625.5 288.05v2.96" stroke="#000" stroke-width="0.68"/>
<path d="M589.3 288.05v1.69M590.55 288.05v1.69M591.6 288.05v1.69M592.51 288.05v1.69M593.32 288.05v1.69M598.77 288.05v1.69M601.54 288.05v1.69M603.51 288.05v1.69M605.03 288.05v1.69M606.28 288.05v1.69M607.33 288.05v1.69M608.24 288.05v1.69M609.05 288.05v1.69M614.5 288.05v1.69M617.27 288.05v1.69M619.24 288.05v1.69M620.76 288.05v1.69M622.01 288.05v1.69M623.06 288.05v1.69M623.98 288.05v1.69M624.78 288.05v1.69" stroke="#000" stroke-width="0.75"/>
<path d="M589.3 288.05h-2.96M589.3 262.7h-2.96M589.3 237.35h-2.96" stroke="#000" stroke-width="0.68"/>
<rect x="589.3" y="237.35" width="36.2" height="50.7" fill="none" stroke="#000" stroke-width="0.68" stroke-linejoin="miter"/>
<rect x="641.3" y="167.25" width="6.9" height="135.2" fill="url(#cb)"/>
<path d="M648.2 284.76h2.96M648.2 226.01h2.96M648.2 167.25h2.96" stroke="#000" stroke-width="0.68"/>
<path d="M648.2 302.45h1.69M648.2 297.8h1.69M648.2 293.86h1.69M648.2 290.46h1.69M648.2 287.45h1.69M648.2 267.08h1.69M648.2 256.73h1.69M648.2 249.39h1.69M648.2 243.69h1.69M648.2 239.04h1.69M648.2 235.11h1.69M648.2 231.7h1.69M648.2 228.69h1.69M648.2 208.32h1.69M648.2 197.97h1.69M648.2 190.63h1.69M648.2 184.94h1.69M648.2 180.29h1.69M648.2 176.35h1.69M648.2 172.94h1.69M648.2 169.94h1.69" stroke="#000" stroke-width="0.75"/>
<rect x="641.3" y="167.25" width="6.9" height="135.2" fill="none" stroke="#000" stroke-width="0.68" stroke-linejoin="miter"/>
<path d="M39.67 402.9 L39.67 364.31 L40.36 363.25 L41.05 362.34 L41.74 361.53 L42.43 360.81 L43.12 360.17 L43.81 359.58 L44.51 359.04 L45.2 358.54 L45.89 358.08 L46.58 357.66 L47.27 357.26 L47.96 356.88 L48.65 356.53 L49.34 356.2 L50.03 355.89 L50.72 355.6 L51.41 355.32 L52.1 355.06 L52.79 354.81 L53.48 354.57 L54.17 354.34 L54.86 354.13 L55.55 353.92 L56.24 353.73 L56.93 353.54 L57.62 353.36 L58.31 353.2 L59 353.04 L59.69 352.88 L60.38 352.74 L61.07 352.6 L61.76 352.46 L62.45 352.34 L63.15 352.22 L63.84 352.1 L64.53 352 L65.22 351.89 L65.91 351.8 L66.6 351.7 L67.29 351.62 L67.98 351.54 L68.67 351.46 L69.36 351.39 L70.05 351.32 L70.74 351.26 L71.43 351.2 L72.12 351.14 L72.81 351.1 L73.5 351.05 L74.19 351.01 L74.88 350.97 L75.57 350.94 L76.26 350.91 L76.95 350.89 L77.64 350.87 L78.33 350.85 L79.02 350.84 L79.71 350.83 L80.4 350.83 L81.1 350.83 L81.79 350.83 L82.48 350.84 L83.17 350.85 L83.86 350.87 L84.55 350.89 L85.24 350.91 L85.93 350.94 L86.62 350.97 L87.31 351.01 L88 351.05 L88.69 351.1 L89.38 351.14 L90.07 351.2 L90.76 351.26 L91.45 351.32 L92.14 351.39 L92.83 351.46 L93.52 351.54 L94.21 351.62 L94.9 351.7 L95.59 351.8 L96.28 351.89 L96.97 352 L97.66 352.1 L98.35 352.22 L99.05 352.34 L99.74 352.46 L100.43 352.6 L101.12 352.74 L101.81 352.88 L102.5 353.04 L103.19 353.2 L103.88 353.36 L104.57 353.54 L105.26 353.73 L105.95 353.92 L106.64 354.13 L107.33 354.34 L108.02 354.57 L108.71 354.81 L109.4 355.06 L110.09 355.32 L110.78 355.6 L111.47 355.89 L112.16 356.2 L112.85 356.53 L113.54 356.88 L114.23 357.26 L114.92 357.66 L115.61 358.08 L116.3 358.54 L116.99 359.04 L117.69 359.58 L118.38 360.17 L119.07 360.81 L119.76 361.53 L120.45 362.34 L121.14 363.25 L121.83 364.31 L121.83 402.9" fill="none" stroke="#1f77b4" stroke-width="1.27" stroke-linejoin="round" clip-path="url(#c9)"/>
<path d="M35.5 382.9v2.96M58.12 382.9v2.96M80.75 382.9v2.96M103.38 382.9v2.96M126 382.9v2.96M148.62 382.9v2.96M171.25 382.9v2.96M193.88 382.9v2.96M216.5 382.9v2.96" stroke="#000" stroke-width="0.68"/>
<path d="M35.5 378.07h-2.96M35.5 362.04h-2.96M35.5 346h-2.96" stroke="#000" stroke-width="0.68"/>
<path d="M35.5 382.9h-1.69M35.5 381.63h-1.69M35.5 380.56h-1.69M35.5 379.63h-1.69M35.5 378.81h-1.69M35.5 373.25h-1.69M35.5 370.42h-1.69M35.5 368.42h-1.69M35.5 366.86h-1.69M35.5 365.59h-1.69M35.5 364.52h-1.69M35.5 363.59h-1.69M35.5 362.77h-1.69M35.5 357.21h-1.69M35.5 354.39h-1.69M35.5 352.38h-1.69M35.5 350.83h-1.69M35.5 349.56h-1.69M35.5 348.48h-1.69M35.5 347.55h-1.69M35.5 346.73h-1.69" stroke="#000" stroke-width="0.75"/>
<rect x="35.5" y="346" width="181" height="36.9" fill="none" stroke="#000" stroke-width="0.68" stroke-linejoin="miter"/>
<rect x="35.5" y="400.9" width="181" height="50.8" fill="#440154"/>
<path d="M35.67 400.9 L35.67 401.92 L35.83 401.92 L35.83 402.93 L36 402.93 L36 403.95 L36.17 403.95 L36.17 404.96 L36.33 404.96 L36.33 405.98 L36.5 405.98 L36.5 407 L36.66 407 L36.66 408.01 L36.83 408.01 L36.83 409.03 L37 409.03 L37 410.04 L37.16 410.04 L37.16 411.06 L37.33 411.06 L37.33 412.08 L37.5 412.08 L37.5 413.09 L37.66 413.09 L37.66 414.11 L37.83 414.11 L37.83 415.12 L38 415.12 L38 416.14 L38.16 416.14 L38.16 417.16 L38.33 417.16 L38.33 418.17 L38.5 418.17 L38.5 419.19 L38.67 419.19 L38.67 420.2 L38.83 420.2 L38.83 421.22 L39 421.22 L39 422.24 L39.17 422.24 L39.17 423.25 L39.34 423.25 L39.34 424.27 L39.5 424.27 L39.5 425.28 L39.67 425.28 L39.67 426.3 L39.84 426.3 L39.84 427.32 L40.01 427.32 L40.01 428.33 L40.18 428.33 L40.18 429.35 L40.35 429.35 L40.35 430.36 L40.51 430.36 L40.51 431.38 L40.68 431.38 L40.68 432.4 L40.85 432.4 L40.85 433.41 L41.02 433.41 L41.02 434.43 L41.19 434.43 L41.19 435.44 L41.36 435.44 L41.36 436.46 L41.53 436.46 L41.53 437.48 L41.7 437.48 L41.7 438.49 L41.87 438.49 L41.87 439.51 L42.04 439.51 L42.04 440.52 L42.21 440.52 L42.21 441.54 L42.38 441.54 L42.38 442.56 L42.56 442.56 L42.56 443.57 L42.73 443.57 L42.73 444.59 L42.9 444.59 L42.9 445.6 L43.07 445.6 L43.07 446.62 L43.24 446.62 L43.24 447.64 L43.42 447.64 L43.42 448.65 L43.59 448.65 L43.59 449.67 L43.76 449.67 L43.76 450.68 L43.94 450.68 L43.94 451.7 L117.56 451.7 L117.56 450.68 L117.74 450.68 L117.74 449.67 L117.91 449.67 L117.91 448.65 L118.08 448.65 L118.08 447.64 L118.26 447.64 L118.26 446.62 L118.43 446.62 L118.43 445.6 L118.6 445.6 L118.6 444.59 L118.77 444.59 L118.77 443.57 L118.94 443.57 L118.94 442.56 L119.12 442.56 L119.12 441.54 L119.29 441.54 L119.29 440.52 L119.46 440.52 L119.46 439.51 L119.63 439.51 L119.63 438.49 L119.8 438.49 L119.8 437.48 L119.97 437.48 L119.97 436.46 L120.14 436.46 L120.14 435.44 L120.31 435.44 L120.31 434.43 L120.48 434.43 L120.48 433.41 L120.65 433.41 L120.65 432.4 L120.82 432.4 L120.82 431.38 L120.99 431.38 L120.99 430.36 L121.15 430.36 L121.15 429.35 L121.32 429.35 L121.32 428.33 L121.49 428.33 L121.49 427.32 L121.66 427.32 L121.66 426.3 L121.83 426.3 L121.83 425.28 L122 425.28 L122 424.27 L122.16 424.27 L122.16 423.25 L122.33 423.25 L122.33 422.24 L122.5 422.24 L122.5 421.22 L122.67 421.22 L122.67 420.2 L122.83 420.2 L122.83 419.19 L123 419.19 L123 418.17 L123.17 418.17 L123.17 417.16 L123.34 417.16 L123.34 416.14 L123.5 416.14 L123.5 415.12 L123.67 415.12 L123.67 414.11 L123.84 414.11 L123.84 413.09 L124 413.09 L124 412.08 L124.17 412.08 L124.17 411.06 L124.34 411.06 L124.34 410.04 L124.5 410.04 L124.5 409.03 L124.67 409.03 L124.67 408.01 L124.84 408.01 L124.84 407 L125 407 L125 405.98 L125.17 405.98 L125.17 404.96 L125.33 404.96 L125.33 403.95 L125.5 403.95 L125.5 402.93 L125.67 402.93 L125.67 401.92 L125.83 401.92 L125.83 400.9Z" fill="url(#g4)"/>
<path d="M35.5 451.7v2.96M58.12 451.7v2.96M80.75 451.7v2.96M103.38 451.7v2.96M126 451.7v2.96M148.62 451.7v2.96M171.25 451.7v2.96M193.88 451.7v2.96M216.5 451.7v2.96" stroke="#000" stroke-width="0.68"/>
<path d="M35.5 451.7h-2.96M35.5 426.3h-2.96M35.5 400.9h-2.96" stroke="#000" stroke-width="0.68"/>
<rect x="35.5" y="400.9" width="181" height="50.8" fill="none" stroke="#000" stroke-width="0.68" stroke-linejoin="miter"/>
<path d="M272.76 396.1 L272.76 456.8" fill="none" stroke="#1f77b4" stroke-width="1.27" stroke-linejoin="round" clip-path="url(#c10)"/>
<path d="M246.04 451.8v2.96M261.77 451.8v2.96M277.5 451.8v2.96" stroke="#000" stroke-width="0.68"/>
<path d="M241.3 451.8v1.69M242.55 451.8v1.69M243.6 451.8v1.69M244.51 451.8v1.69M245.32 451.8v1.69M250.77 451.8v1.69M253.54 451.8v1.69M255.51 451.8v1.69M257.03 451.8v1.69M258.28 451.8v1.69M259.33 451.8v1.69M260.24 451.8v1.69M261.05 451.8v1.69M266.5 451.8v1.69M269.27 451.8v1.69M271.24 451.8v1.69M272.76 451.8v1.69M274.01 451.8v1.69M275.06 451.8v1.69M275.98 451.8v1.69M276.78 451.8v1.69" stroke="#000" stroke-width="0.75"/>
<path d="M241.3 451.8h-2.96M241.3 426.45h-2.96M241.3 401.1h-2.96" stroke="#000" stroke-width="0.68"/>
<rect x="241.3" y="401.1" width="36.2" height="50.7" fill="none" stroke="#000" stroke-width="0.68" stroke-linejoin="miter"/>
<rect x="292.6" y="331" width="6.9" height="135.2" fill="url(#cb)"/>
<path d="M299.5 448.51h2.96M299.5 389.76h2.96M299.5 331h2.96" stroke="#000" stroke-width="0.68"/>
<path d="M299.5 466.2h1.69M299.5 461.55h1.69M299.5 457.61h1.69M299.5 454.21h1.69M299.5 451.2h1.69M299.5 430.83h1.69M299.5 420.48h1.69M299.5 413.14h1.69M299.5 407.44h1.69M299.5 402.79h1.69M299.5 398.86h1.69M299.5 395.45h1.69M299.5 392.44h1.69M299.5 372.07h1.69M299.5 361.72h1.69M299.5 354.38h1.69M299.5 348.69h1.69M299.5 344.04h1.69M299.5 340.1h1.69M299.5 336.69h1.69M299.5 333.69h1.69" stroke="#000" stroke-width="0.75"/>
<rect x="292.6" y="331" width="6.9" height="135.2" fill="none" stroke="#000" stroke-width="0.68" stroke-linejoin="miter"/>
<path d="M418.15 402.9 L418.15 346.72 L418.32 346.71 L418.5 346.69 L418.68 346.68 L418.86 346.66 L419.04 346.65 L419.22 346.63 L419.39 346.62 L419.57 346.6 L419.75 346.59 L419.93 346.57 L420.11 346.56 L420.28 346.55 L420.46 346.53 L420.64 346.52 L420.82 346.51 L421 346.5 L421.18 346.49 L421.35 346.47 L421.53 346.46 L421.71 346.45 L421.89 346.44 L422.07 346.43 L422.25 346.42 L422.42 346.41 L422.6 346.4 L422.78 346.39 L422.96 346.38 L423.14 346.37 L423.31 346.37 L423.49 346.36 L423.67 346.35 L423.85 346.34 L424.03 346.34 L424.21 346.33 L424.38 346.32 L424.56 346.32 L424.74 346.31 L424.92 346.3 L425.1 346.3 L425.27 346.29 L425.45 346.29 L425.63 346.28 L425.81 346.28 L425.99 346.27 L426.17 346.27 L426.34 346.27 L426.52 346.26 L426.7 346.26 L426.88 346.26 L427.06 346.25 L427.24 346.25 L427.41 346.25 L427.59 346.25 L427.77 346.25 L427.95 346.24 L428.13 346.24 L428.3 346.24 L428.48 346.24 L428.66 346.24 L428.84 346.24 L429.02 346.24 L429.2 346.24 L429.37 346.24 L429.55 346.24 L429.73 346.25 L429.91 346.25 L430.09 346.25 L430.26 346.25 L430.44 346.25 L430.62 346.26 L430.8 346.26 L430.98 346.26 L431.16 346.27 L431.33 346.27 L431.51 346.27 L431.69 346.28 L431.87 346.28 L432.05 346.29 L432.23 346.29 L432.4 346.3 L432.58 346.3 L432.76 346.31 L432.94 346.32 L433.12 346.32 L433.29 346.33 L433.47 346.34 L433.65 346.34 L433.83 346.35 L434.01 346.36 L434.19 346.37 L434.36 346.37 L434.54 346.38 L434.72 346.39 L434.9 346.4 L435.08 346.41 L435.25 346.42 L435.43 346.43 L435.61 346.44 L435.79 346.45 L435.97 346.46 L436.15 346.47 L436.32 346.49 L436.5 346.5 L436.68 346.51 L436.86 346.52 L437.04 346.53 L437.22 346.55 L437.39 346.56 L437.57 346.57 L437.75 346.59 L437.93 346.6 L438.11 346.62 L438.28 346.63 L438.46 346.65 L438.64 346.66 L438.82 346.68 L439 346.69 L439.18 346.71 L439.35 346.72 L439.35 402.9" fill="none" stroke="#1f77b4" stroke-width="1.27" stroke-linejoin="round" clip-path="url(#c11)"/>
<path d="M383.5 382.9v2.96M406.12 382.9v2.96M428.75 382.9v2.96M451.38 382.9v2.96M474 382.9v2.96M496.62 382.9v2.96M519.25 382.9v2.96M541.88 382.9v2.96M564.5 382.9v2.96" stroke="#000" stroke-width="0.68"/>
<path d="M383.5 378.07h-2.96M383.5 362.04h-2.96M383.5 346h-2.96" stroke="#000" stroke-width="0.68"/>
<path d="M383.5 382.9h-1.69M383.5 381.63h-1.69M383.5 380.56h-1.69M383.5 379.63h-1.69M383.5 378.81h-1.69M383.5 373.25h-1.69M383.5 370.42h-1.69M383.5 368.42h-1.69M383.5 366.86h-1.69M383.5 365.59h-1.69M383.5 364.52h-1.69M383.5 363.59h-1.69M383.5 362.77h-1.69M383.5 357.21h-1.69M383.5 354.39h-1.69M383.5 352.38h-1.69M383.5 350.83h-1.69M383.5 349.56h-1.69M383.5 348.48h-1.69M383.5 347.55h-1.69M383.5 346.73h-1.69" stroke="#000" stroke-width="0.75"/>
<rect x="383.5" y="346" width="181" height="36.9" fill="none" stroke="#000" stroke-width="0.68" stroke-linejoin="miter"/>
<rect x="383.5" y="400.9" width="181" height="50.8" fill="#440154"/>
<path d="M384.58 400.9 L384.58 401.92 L385.65 401.92 L385.65 402.93 L386.73 402.93 L386.73 403.95 L387.82 403.95 L387.82 404.96 L388.91 404.96 L388.91 405.98 L390.01 405.98 L390.01 407 L391.11 407 L391.11 408.01 L392.23 408.01 L392.23 409.03 L393.37 409.03 L393.37 410.04 L394.52 410.04 L394.52 411.06 L395.69 411.06 L395.69 412.08 L396.88 412.08 L396.88 413.09 L398.09 413.09 L398.09 414.11 L399.34 414.11 L399.34 415.12 L400.62 415.12 L400.62 416.14 L401.93 416.14 L401.93 417.16 L403.3 417.16 L403.3 418.17 L404.72 418.17 L404.72 419.19 L406.21 419.19 L406.21 420.2 L407.77 420.2 L407.77 421.22 L409.45 421.22 L409.45 422.24 L411.25 422.24 L411.25 423.25 L413.23 423.25 L413.23 424.27 L415.48 424.27 L415.48 425.28 L418.15 425.28 L418.15 426.3 L421.72 426.3 L421.72 427.32 L435.78 427.32 L435.78 426.3 L439.35 426.3 L439.35 425.28 L442.02 425.28 L442.02 424.27 L444.27 424.27 L444.27 423.25 L446.25 423.25 L446.25 422.24 L448.05 422.24 L448.05 421.22 L449.73 421.22 L449.73 420.2 L451.29 420.2 L451.29 419.19 L452.78 419.19 L452.78 418.17 L454.2 418.17 L454.2 417.16 L455.57 417.16 L455.57 416.14 L456.88 416.14 L456.88 415.12 L458.16 415.12 L458.16 414.11 L459.41 414.11 L459.41 413.09 L460.62 413.09 L460.62 412.08 L461.81 412.08 L461.81 411.06 L462.98 411.06 L462.98 410.04 L464.13 410.04 L464.13 409.03 L465.27 409.03 L465.27 408.01 L466.39 408.01 L466.39 407 L467.49 407 L467.49 405.98 L468.59 405.98 L468.59 404.96 L469.68 404.96 L469.68 403.95 L470.77 403.95 L470.77 402.93 L471.85 402.93 L471.85 401.92 L472.92 401.92 L472.92 400.9Z" fill="url(#g5)"/>
<path d="M383.5 451.7v2.96M406.12 451.7v2.96M428.75 451.7v2.96M451.38 451.7v2.96M474 451.7v2.96M496.62 451.7v2.96M519.25 451.7v2.96M541.88 451.7v2.96M564.5 451.7v2.96" stroke="#000" stroke-width="0.68"/>
<path d="M383.5 451.7h-2.96M383.5 426.3h-2.96M383.5 400.9h-2.96" stroke="#000" stroke-width="0.68"/>
<rect x="383.5" y="400.9" width="181" height="50.8" fill="none" stroke="#000" stroke-width="0.68" stroke-linejoin="miter"/>
<path d="M625.26 396.1 L625.26 427.46 L569.3 427.46 L569.3 456.8" fill="none" stroke="#1f77b4" stroke-width="1.27" stroke-linejoin="round" clip-path="url(#c12)"/>
<path d="M594.04 451.8v2.96M609.77 451.8v2.96M625.5 451.8v2.96" stroke="#000" stroke-width="0.68"/>
<path d="M589.3 451.8v1.69M590.55 451.8v1.69M591.6 451.8v1.69M592.51 451.8v1.69M593.32 451.8v1.69M598.77 451.8v1.69M601.54 451.8v1.69M603.51 451.8v1.69M605.03 451.8v1.69M606.28 451.8v1.69M607.33 451.8v1.69M608.24 451.8v1.69M609.05 451.8v1.69M614.5 451.8v1.69M617.27 451.8v1.69M619.24 451.8v1.69M620.76 451.8v1.69M622.01 451.8v1.69M623.06 451.8v1.69M623.98 451.8v1.69M624.78 451.8v1.69" stroke="#000" stroke-width="0.75"/>
<path d="M589.3 451.8h-2.96M589.3 426.45h-2.96M589.3 401.1h-2.96" stroke="#000" stroke-width="0.68"/>
<rect x="589.3" y="401.1" width="36.2" height="50.7" fill="none" stroke="#000" stroke-width="0.68" stroke-linejoin="miter"/>
<rect x="641.3" y="331" width="6.9" height="135.2" fill="url(#cb)"/>
<path d="M648.2 448.51h2.96M648.2 389.76h2.96M648.2 331h2.96" stroke="#000" stroke-width="0.68"/>
<path d="M648.2 466.2h1.69M648.2 461.55h1.69M648.2 457.61h1.69M648.2 454.21h1.69M648.2 451.2h1.69M648.2 430.83h1.69M648.2 420.48h1.69M648.2 413.14h1.69M648.2 407.44h1.69M648.2 402.79h1.69M648.2 398.86h1.69M648.2 395.45h1.69M648.2 392.44h1.69M648.2 372.07h1.69M648.2 361.72h1.69M648.2 354.38h1.69M648.2 348.69h1.69M648.2 344.04h1.69M648.2 340.1h1.69M648.2 336.69h1.69M648.2 333.69h1.69" stroke="#000" stroke-width="0.75"/>
<rect x="641.3" y="331" width="6.9" height="135.2" fill="none" stroke="#000" stroke-width="0.68" stroke-linejoin="miter"/>
<g>
<text transform="translate(29.049 66.315) scale(1.0792 1)" x="0 3.99 7.97" y="0" font-size="7.166">270</text>
<text transform="translate(51.674 66.315) scale(1.0792 1)" x="0 3.99 7.97" y="0" font-size="7.166">225</text>
<text transform="translate(74.299 66.315) scale(1.0792 1)" x="0 3.99 7.97" y="0" font-size="7.166">180</text>
<text transform="translate(96.924 66.315) scale(1.0792 1)" x="0 3.99 7.97" y="0" font-size="7.166">135</text>
<text transform="translate(121.699 66.315) scale(1.0792 1)" x="0 3.99" y="0" font-size="7.166">90</text>
<text transform="translate(144.324 66.315) scale(1.0792 1)" x="0 3.99" y="0" font-size="7.166">45</text>
<text transform="translate(169.100 66.315) scale(1.0792 1)" x="0" y="0" font-size="7.166">0</text>
<text transform="translate(188.354 66.315) scale(1.0661 1)" x="-0.05 2.31 6.35" y="0" font-size="7.166">-45</text>
<text transform="translate(210.979 66.315) scale(1.0661 1)" x="-0.05 2.31 6.35" y="0" font-size="7.166">-90</text>
<text transform="translate(13.251 54.312) scale(1.0792 1)" x="0" y="0" font-size="7.166">1</text>
<text transform="translate(17.552 54.312) scale(1.0792 1)" x="0" y="0" font-size="7.166">0</text>
<text transform="translate(21.918 51.725) scale(1.3536 1)" x="0" y="0" font-size="5.016">−</text>
<text transform="translate(25.883 51.725) scale(1.0792 1)" x="0" y="0" font-size="5.016">2</text>
<text transform="translate(13.173 38.211) scale(1.0792 1)" x="0" y="0" font-size="7.166">1</text>
<text transform="translate(17.474 38.211) scale(1.0792 1)" x="0" y="0" font-size="7.166">0</text>
<text transform="translate(21.840 35.624) scale(1.3536 1)" x="0" y="0" font-size="5.016">−</text>
<text transform="translate(25.805 35.624) scale(1.0792 1)" x="0" y="0" font-size="5.016">1</text>
<text transform="translate(17.101 22.240) scale(1.0792 1)" x="0" y="0" font-size="7.166">1</text>
<text transform="translate(21.402 22.240) scale(1.0792 1)" x="0" y="0" font-size="7.166">0</text>
<text transform="translate(25.767 19.652) scale(1.0792 1)" x="0" y="0" font-size="5.016">0</text>
<text transform="translate(7.843 56.477) rotate(-90) scale(1.0602 1)" x="-0.38 4.11 5.33 8.07 10.33 12.82 15.11 17.43 21.47 26.27 30.33 34.4" y="0" font-size="7.166">E/J [](z=75)</text>
<text transform="translate(14.275 13.930) scale(1.0885 1)" x="0.2 2.86 8.51 13.47 15.44 20.58 23.43 25.56 30 34.87 37.43 39.54 42.66 45.64 50.48 55.52 57.48 62.31 67.16 71.43 76.3 78.66 83.5 88.44 91.19 93.93 98.78 103.64 106.06 112.36 117.31 119.47 121.53 123.89 128.88 131.48 134.24 136.97 141.82 146.69 149.14 153.97 158.92 160.89 165.96 169.33 171.69 176.55 179.66 185.52 187.97 192.91 197.86 200.32" y="0" font-size="8.957">&quot;Relative irradiance on the wall of the hole&quot; θ = 90.0</text>
<text transform="translate(27.436 137.115) scale(1.0792 1)" x="0 4.98 9.96" y="0" font-size="8.957">270</text>
<text transform="translate(50.061 137.115) scale(1.0792 1)" x="0 4.98 9.96" y="0" font-size="8.957">225</text>
<text transform="translate(72.686 137.115) scale(1.0792 1)" x="0 4.98 9.96" y="0" font-size="8.957">180</text>
<text transform="translate(95.311 137.115) scale(1.0792 1)" x="0 4.98 9.96" y="0" font-size="8.957">135</text>
<text transform="translate(120.624 137.115) scale(1.0792 1)" x="0 4.98" y="0" font-size="8.957">90</text>
<text transform="translate(143.249 137.115) scale(1.0792 1)" x="0 4.98" y="0" font-size="8.957">45</text>
<text transform="translate(168.562 137.115) scale(1.0792 1)" x="0" y="0" font-size="8.957">0</text>
<text transform="translate(186.974 137.115) scale(1.0661 1)" x="-0.06 2.89 7.93" y="0" font-size="8.957">-45</text>
<text transform="translate(209.599 137.115) scale(1.0661 1)" x="-0.06 2.89 7.93" y="0" font-size="8.957">-90</text>
<text transform="translate(116.461 148.895) scale(1.1319 1)" x="-0.44 4.87 7.51 10.29 14.16" y="0" font-size="8.957">φ [°]</text>
<text transform="translate(18.833 127.700) scale(1.0792 1)" x="0 4.98" y="0" font-size="8.957">50</text>
<text transform="translate(18.833 102.300) scale(1.0792 1)" x="0 4.98" y="0" font-size="8.957">75</text>
<text transform="translate(13.457 76.900) scale(1.0792 1)" x="0 4.98 9.96" y="0" font-size="8.957">100</text>
<text transform="translate(7.180 110.473) rotate(-90) scale(1.1309 1)" x="-0.28 3.87 6.51 9.12 16.7" y="0" font-size="8.957">z [m]</text>
<text transform="translate(239.308 135.820) scale(0.9636 1)" x="0" y="0" font-size="6.019">1</text>
<text transform="translate(242.534 135.820) scale(0.9636 1)" x="0" y="0" font-size="6.019">0</text>
<text transform="translate(245.808 133.879) scale(1.2085 1)" x="0" y="0" font-size="4.213">−</text>
<text transform="translate(248.782 133.879) scale(0.9636 1)" x="0" y="0" font-size="4.213">2</text>
<text transform="translate(255.033 135.774) scale(0.9636 1)" x="0" y="0" font-size="6.019">1</text>
<text transform="translate(258.258 135.774) scale(0.9636 1)" x="0" y="0" font-size="6.019">0</text>
<text transform="translate(261.533 133.833) scale(1.2085 1)" x="0" y="0" font-size="4.213">−</text>
<text transform="translate(264.506 133.833) scale(0.9636 1)" x="0" y="0" font-size="4.213">1</text>
<text transform="translate(272.213 135.820) scale(0.9636 1)" x="0" y="0" font-size="6.019">1</text>
<text transform="translate(275.439 135.820) scale(0.9636 1)" x="0" y="0" font-size="6.019">0</text>
<text transform="translate(278.713 133.879) scale(0.9636 1)" x="0" y="0" font-size="4.213">0</text>
<text transform="translate(231.733 147.895) scale(1.0569 1)" x="-0.46 5.15 6.69 10.13 12.96 16.08 18.95 21.74 28.01 34.03 39.12 44.2 49.3" y="0" font-size="8.957">E/J [](φ=180)</text>
<text transform="translate(227.934 126.300) scale(0.9385 1)" x="0 3.44" y="0" font-size="6.180">50</text>
<text transform="translate(227.934 100.950) scale(0.9385 1)" x="0 3.44" y="0" font-size="6.180">75</text>
<text transform="translate(224.708 75.600) scale(0.9385 1)" x="0 3.44 6.87" y="0" font-size="6.180">100</text>
<text transform="translate(305.415 125.387) scale(1.0792 1)" x="0" y="0" font-size="8.957">1</text>
<text transform="translate(310.791 125.387) scale(1.0792 1)" x="0" y="0" font-size="8.957">0</text>
<text transform="translate(316.248 122.153) scale(1.3536 1)" x="0" y="0" font-size="6.270">−</text>
<text transform="translate(321.204 122.153) scale(1.0792 1)" x="-0" y="0" font-size="6.270">2</text>
<text transform="translate(305.415 67.402) scale(1.0792 1)" x="0" y="0" font-size="8.957">1</text>
<text transform="translate(310.791 67.402) scale(1.0792 1)" x="0" y="0" font-size="8.957">0</text>
<text transform="translate(316.248 64.167) scale(1.3536 1)" x="0" y="0" font-size="6.270">−</text>
<text transform="translate(321.204 64.167) scale(1.0792 1)" x="-0" y="0" font-size="6.270">1</text>
<text transform="translate(305.415 7.875) scale(1.0792 1)" x="0" y="0" font-size="8.957">1</text>
<text transform="translate(310.791 7.875) scale(1.0792 1)" x="0" y="0" font-size="8.957">0</text>
<text transform="translate(316.248 4.640) scale(1.0792 1)" x="-0" y="0" font-size="6.270">0</text>
<text transform="translate(334.440 81.079) rotate(-90) scale(0.9780 1)" x="-0.26 5.67 7.41 11.05 14.11 17.48" y="0" font-size="8.957">E/J []</text>
<text transform="translate(377.049 66.315) scale(1.0792 1)" x="0 3.99 7.97" y="0" font-size="7.166">270</text>
<text transform="translate(399.674 66.315) scale(1.0792 1)" x="0 3.99 7.97" y="0" font-size="7.166">225</text>
<text transform="translate(422.299 66.315) scale(1.0792 1)" x="0 3.99 7.97" y="0" font-size="7.166">180</text>
<text transform="translate(444.924 66.315) scale(1.0792 1)" x="0 3.99 7.97" y="0" font-size="7.166">135</text>
<text transform="translate(469.699 66.315) scale(1.0792 1)" x="0 3.99" y="0" font-size="7.166">90</text>
<text transform="translate(492.324 66.315) scale(1.0792 1)" x="0 3.99" y="0" font-size="7.166">45</text>
<text transform="translate(517.100 66.315) scale(1.0792 1)" x="0" y="0" font-size="7.166">0</text>
<text transform="translate(536.354 66.315) scale(1.0661 1)" x="-0.05 2.31 6.35" y="0" font-size="7.166">-45</text>
<text transform="translate(558.979 66.315) scale(1.0661 1)" x="-0.05 2.31 6.35" y="0" font-size="7.166">-90</text>
<text transform="translate(361.251 54.312) scale(1.0792 1)" x="0" y="0" font-size="7.166">1</text>
<text transform="translate(365.552 54.312) scale(1.0792 1)" x="0" y="0" font-size="7.166">0</text>
<text transform="translate(369.918 51.725) scale(1.3536 1)" x="0" y="0" font-size="5.016">−</text>
<text transform="translate(373.883 51.725) scale(1.0792 1)" x="0" y="0" font-size="5.016">2</text>
<text transform="translate(361.173 38.211) scale(1.0792 1)" x="0" y="0" font-size="7.166">1</text>
<text transform="translate(365.474 38.211) scale(1.0792 1)" x="0" y="0" font-size="7.166">0</text>
<text transform="translate(369.840 35.624) scale(1.3536 1)" x="0" y="0" font-size="5.016">−</text>
<text transform="translate(373.805 35.624) scale(1.0792 1)" x="0" y="0" font-size="5.016">1</text>
<text transform="translate(365.101 22.240) scale(1.0792 1)" x="0" y="0" font-size="7.166">1</text>
<text transform="translate(369.402 22.240) scale(1.0792 1)" x="0" y="0" font-size="7.166">0</text>
<text transform="translate(373.767 19.652) scale(1.0792 1)" x="0" y="0" font-size="5.016">0</text>
<text transform="translate(355.843 56.477) rotate(-90) scale(1.0602 1)" x="-0.38 4.11 5.33 8.07 10.33 12.82 15.11 17.43 21.47 26.27 30.33 34.4" y="0" font-size="7.166">E/J [](z=75)</text>
<text transform="translate(362.275 13.930) scale(1.0885 1)" x="0.2 2.86 8.51 13.47 15.44 20.58 23.43 25.56 30 34.87 37.43 39.54 42.66 45.64 50.48 55.52 57.48 62.31 67.16 71.43 76.3 78.66 83.5 88.44 91.19 93.93 98.78 103.64 106.06 112.36 117.31 119.47 121.53 123.89 128.88 131.48 134.24 136.97 141.82 146.69 149.14 153.97 158.92 160.89 165.96 169.33 171.69 176.55 179.66 185.52 187.97 192.91 197.86 200.32" y="0" font-size="8.957">&quot;Relative irradiance on the wall of the hole&quot; θ = 45.0</text>
<text transform="translate(375.436 137.115) scale(1.0792 1)" x="0 4.98 9.96" y="0" font-size="8.957">270</text>
<text transform="translate(398.061 137.115) scale(1.0792 1)" x="0 4.98 9.96" y="0" font-size="8.957">225</text>
<text transform="translate(420.686 137.115) scale(1.0792 1)" x="0 4.98 9.96" y="0" font-size="8.957">180</text>
<text transform="translate(443.311 137.115) scale(1.0792 1)" x="0 4.98 9.96" y="0" font-size="8.957">135</text>
<text transform="translate(468.624 137.115) scale(1.0792 1)" x="0 4.98" y="0" font-size="8.957">90</text>
<text transform="translate(491.249 137.115) scale(1.0792 1)" x="0 4.98" y="0" font-size="8.957">45</text>
<text transform="translate(516.562 137.115) scale(1.0792 1)" x="0" y="0" font-size="8.957">0</text>
<text transform="translate(534.974 137.115) scale(1.0661 1)" x="-0.06 2.89 7.93" y="0" font-size="8.957">-45</text>
<text transform="translate(557.599 137.115) scale(1.0661 1)" x="-0.06 2.89 7.93" y="0" font-size="8.957">-90</text>
<text transform="translate(464.461 148.895) scale(1.1319 1)" x="-0.44 4.87 7.51 10.29 14.16" y="0" font-size="8.957">φ [°]</text>
<text transform="translate(366.833 127.700) scale(1.0792 1)" x="0 4.98" y="0" font-size="8.957">50</text>
<text transform="translate(366.833 102.300) scale(1.0792 1)" x="0 4.98" y="0" font-size="8.957">75</text>
<text transform="translate(361.457 76.900) scale(1.0792 1)" x="0 4.98 9.96" y="0" font-size="8.957">100</text>
<text transform="translate(355.180 110.473) rotate(-90) scale(1.1309 1)" x="-0.28 3.87 6.51 9.12 16.7" y="0" font-size="8.957">z [m]</text>
<text transform="translate(587.308 135.820) scale(0.9636 1)" x="0" y="0" font-size="6.019">1</text>
<text transform="translate(590.534 135.820) scale(0.9636 1)" x="0" y="0" font-size="6.019">0</text>
<text transform="translate(593.808 133.879) scale(1.2085 1)" x="0" y="0" font-size="4.213">−</text>
<text transform="translate(596.782 133.879) scale(0.9636 1)" x="0" y="0" font-size="4.213">2</text>
<text transform="translate(603.033 135.774) scale(0.9636 1)" x="0" y="0" font-size="6.019">1</text>
<text transform="translate(606.258 135.774) scale(0.9636 1)" x="0" y="0" font-size="6.019">0</text>
<text transform="translate(609.533 133.833) scale(1.2085 1)" x="0" y="0" font-size="4.213">−</text>
<text transform="translate(612.506 133.833) scale(0.9636 1)" x="0" y="0" font-size="4.213">1</text>
<text transform="translate(620.213 135.820) scale(0.9636 1)" x="0" y="0" font-size="6.019">1</text>
<text transform="translate(623.439 135.820) scale(0.9636 1)" x="0" y="0" font-size="6.019">0</text>
<text transform="translate(626.713 133.879) scale(0.9636 1)" x="0" y="0" font-size="4.213">0</text>
<text transform="translate(579.733 147.895) scale(1.0569 1)" x="-0.46 5.15 6.69 10.13 12.96 16.08 18.95 21.74 28.01 34.03 39.12 44.2 49.3" y="0" font-size="8.957">E/J [](φ=180)</text>
<text transform="translate(575.934 126.300) scale(0.9385 1)" x="0 3.44" y="0" font-size="6.180">50</text>
<text transform="translate(575.934 100.950) scale(0.9385 1)" x="0 3.44" y="0" font-size="6.180">75</text>
<text transform="translate(572.708 75.600) scale(0.9385 1)" x="0 3.44 6.87" y="0" font-size="6.180">100</text>
<text transform="translate(654.115 125.387) scale(1.0792 1)" x="0" y="0" font-size="8.957">1</text>
<text transform="translate(659.491 125.387) scale(1.0792 1)" x="0" y="0" font-size="8.957">0</text>
<text transform="translate(664.948 122.153) scale(1.3536 1)" x="0" y="0" font-size="6.270">−</text>
<text transform="translate(669.904 122.153) scale(1.0792 1)" x="-0" y="0" font-size="6.270">2</text>
<text transform="translate(654.115 67.402) scale(1.0792 1)" x="0" y="0" font-size="8.957">1</text>
<text transform="translate(659.491 67.402) scale(1.0792 1)" x="0" y="0" font-size="8.957">0</text>
<text transform="translate(664.948 64.167) scale(1.3536 1)" x="0" y="0" font-size="6.270">−</text>
<text transform="translate(669.904 64.167) scale(1.0792 1)" x="-0" y="0" font-size="6.270">1</text>
<text transform="translate(654.115 7.875) scale(1.0792 1)" x="0" y="0" font-size="8.957">1</text>
<text transform="translate(659.491 7.875) scale(1.0792 1)" x="0" y="0" font-size="8.957">0</text>
<text transform="translate(664.948 4.640) scale(1.0792 1)" x="-0" y="0" font-size="6.270">0</text>
<text transform="translate(683.140 81.079) rotate(-90) scale(0.9780 1)" x="-0.26 5.67 7.41 11.05 14.11 17.48" y="0" font-size="8.957">E/J []</text>
<text transform="translate(29.049 230.065) scale(1.0792 1)" x="0 3.99 7.97" y="0" font-size="7.166">270</text>
<text transform="translate(51.674 230.065) scale(1.0792 1)" x="0 3.99 7.97" y="0" font-size="7.166">225</text>
<text transform="translate(74.299 230.065) scale(1.0792 1)" x="0 3.99 7.97" y="0" font-size="7.166">180</text>
<text transform="translate(96.924 230.065) scale(1.0792 1)" x="0 3.99 7.97" y="0" font-size="7.166">135</text>
<text transform="translate(121.699 230.065) scale(1.0792 1)" x="0 3.99" y="0" font-size="7.166">90</text>
<text transform="translate(144.324 230.065) scale(1.0792 1)" x="0 3.99" y="0" font-size="7.166">45</text>
<text transform="translate(169.100 230.065) scale(1.0792 1)" x="0" y="0" font-size="7.166">0</text>
<text transform="translate(188.354 230.065) scale(1.0661 1)" x="-0.05 2.31 6.35" y="0" font-size="7.166">-45</text>
<text transform="translate(210.979 230.065) scale(1.0661 1)" x="-0.05 2.31 6.35" y="0" font-size="7.166">-90</text>
<text transform="translate(13.251 218.062) scale(1.0792 1)" x="0" y="0" font-size="7.166">1</text>
<text transform="translate(17.552 218.062) scale(1.0792 1)" x="0" y="0" font-size="7.166">0</text>
<text transform="translate(21.918 215.475) scale(1.3536 1)" x="0" y="0" font-size="5.016">−</text>
<text transform="translate(25.883 215.475) scale(1.0792 1)" x="0" y="0" font-size="5.016">2</text>
<text transform="translate(13.173 201.961) scale(1.0792 1)" x="0" y="0" font-size="7.166">1</text>
<text transform="translate(17.474 201.961) scale(1.0792 1)" x="0" y="0" font-size="7.166">0</text>
<text transform="translate(21.840 199.374) scale(1.3536 1)" x="0" y="0" font-size="5.016">−</text>
<text transform="translate(25.805 199.374) scale(1.0792 1)" x="0" y="0" font-size="5.016">1</text>
<text transform="translate(17.101 185.990) scale(1.0792 1)" x="0" y="0" font-size="7.166">1</text>
<text transform="translate(21.402 185.990) scale(1.0792 1)" x="0" y="0" font-size="7.166">0</text>
<text transform="translate(25.767 183.402) scale(1.0792 1)" x="0" y="0" font-size="5.016">0</text>
<text transform="translate(7.843 220.227) rotate(-90) scale(1.0602 1)" x="-0.38 4.11 5.33 8.07 10.33 12.82 15.11 17.43 21.47 26.27 30.33 34.4" y="0" font-size="7.166">E/J [](z=75)</text>
<text transform="translate(14.275 177.680) scale(1.0885 1)" x="0.2 2.86 8.51 13.47 15.44 20.58 23.43 25.56 30 34.87 37.43 39.54 42.66 45.64 50.48 55.52 57.48 62.31 67.16 71.43 76.3 78.66 83.5 88.44 91.19 93.93 98.78 103.64 106.06 112.36 117.31 119.47 121.53 123.89 128.88 131.48 134.24 136.97 141.82 146.69 149.14 153.97 158.92 160.89 165.96 169.33 171.69 176.55 179.66 185.52 187.97 192.91 197.86 200.32" y="0" font-size="8.957">&quot;Relative irradiance on the wall of the hole&quot; θ = 75.0</text>
<text transform="translate(27.436 300.865) scale(1.0792 1)" x="0 4.98 9.96" y="0" font-size="8.957">270</text>
<text transform="translate(50.061 300.865) scale(1.0792 1)" x="0 4.98 9.96" y="0" font-size="8.957">225</text>
<text transform="translate(72.686 300.865) scale(1.0792 1)" x="0 4.98 9.96" y="0" font-size="8.957">180</text>
<text transform="translate(95.311 300.865) scale(1.0792 1)" x="0 4.98 9.96" y="0" font-size="8.957">135</text>
<text transform="translate(120.624 300.865) scale(1.0792 1)" x="0 4.98" y="0" font-size="8.957">90</text>
<text transform="translate(143.249 300.865) scale(1.0792 1)" x="0 4.98" y="0" font-size="8.957">45</text>
<text transform="translate(168.562 300.865) scale(1.0792 1)" x="0" y="0" font-size="8.957">0</text>
<text transform="translate(186.974 300.865) scale(1.0661 1)" x="-0.06 2.89 7.93" y="0" font-size="8.957">-45</text>
<text transform="translate(209.599 300.865) scale(1.0661 1)" x="-0.06 2.89 7.93" y="0" font-size="8.957">-90</text>
<text transform="translate(116.461 312.645) scale(1.1319 1)" x="-0.44 4.87 7.51 10.29 14.16" y="0" font-size="8.957">φ [°]</text>
<text transform="translate(18.833 291.450) scale(1.0792 1)" x="0 4.98" y="0" font-size="8.957">50</text>
<text transform="translate(18.833 266.050) scale(1.0792 1)" x="0 4.98" y="0" font-size="8.957">75</text>
<text transform="translate(13.457 240.650) scale(1.0792 1)" x="0 4.98 9.96" y="0" font-size="8.957">100</text>
<text transform="translate(7.180 274.223) rotate(-90) scale(1.1309 1)" x="-0.28 3.87 6.51 9.12 16.7" y="0" font-size="8.957">z [m]</text>
<text transform="translate(239.308 299.570) scale(0.9636 1)" x="0" y="0" font-size="6.019">1</text>
<text transform="translate(242.534 299.570) scale(0.9636 1)" x="0" y="0" font-size="6.019">0</text>
<text transform="translate(245.808 297.629) scale(1.2085 1)" x="0" y="0" font-size="4.213">−</text>
<text transform="translate(248.782 297.629) scale(0.9636 1)" x="0" y="0" font-size="4.213">2</text>
<text transform="translate(255.033 299.524) scale(0.9636 1)" x="0" y="0" font-size="6.019">1</text>
<text transform="translate(258.258 299.524) scale(0.9636 1)" x="0" y="0" font-size="6.019">0</text>
<text transform="translate(261.533 297.583) scale(1.2085 1)" x="0" y="0" font-size="4.213">−</text>
<text transform="translate(264.506 297.583) scale(0.9636 1)" x="0" y="0" font-size="4.213">1</text>
<text transform="translate(272.213 299.570) scale(0.9636 1)" x="0" y="0" font-size="6.019">1</text>
<text transform="translate(275.439 299.570) scale(0.9636 1)" x="0" y="0" font-size="6.019">0</text>
<text transform="translate(278.713 297.629) scale(0.9636 1)" x="0" y="0" font-size="4.213">0</text>
<text transform="translate(231.733 311.645) scale(1.0569 1)" x="-0.46 5.15 6.69 10.13 12.96 16.08 18.95 21.74 28.01 34.03 39.12 44.2 49.3" y="0" font-size="8.957">E/J [](φ=180)</text>
<text transform="translate(227.934 290.050) scale(0.9385 1)" x="0 3.44" y="0" font-size="6.180">50</text>
<text transform="translate(227.934 264.700) scale(0.9385 1)" x="0 3.44" y="0" font-size="6.180">75</text>
<text transform="translate(224.708 239.350) scale(0.9385 1)" x="0 3.44 6.87" y="0" font-size="6.180">100</text>
<text transform="translate(305.415 289.137) scale(1.0792 1)" x="0" y="0" font-size="8.957">1</text>
<text transform="translate(310.791 289.137) scale(1.0792 1)" x="0" y="0" font-size="8.957">0</text>
<text transform="translate(316.248 285.903) scale(1.3536 1)" x="0" y="0" font-size="6.270">−</text>
<text transform="translate(321.204 285.903) scale(1.0792 1)" x="-0" y="0" font-size="6.270">2</text>
<text transform="translate(305.415 231.152) scale(1.0792 1)" x="0" y="0" font-size="8.957">1</text>
<text transform="translate(310.791 231.152) scale(1.0792 1)" x="0" y="0" font-size="8.957">0</text>
<text transform="translate(316.248 227.917) scale(1.3536 1)" x="0" y="0" font-size="6.270">−</text>
<text transform="translate(321.204 227.917) scale(1.0792 1)" x="-0" y="0" font-size="6.270">1</text>
<text transform="translate(305.415 171.625) scale(1.0792 1)" x="0" y="0" font-size="8.957">1</text>
<text transform="translate(310.791 171.625) scale(1.0792 1)" x="0" y="0" font-size="8.957">0</text>
<text transform="translate(316.248 168.390) scale(1.0792 1)" x="-0" y="0" font-size="6.270">0</text>
<text transform="translate(334.440 244.829) rotate(-90) scale(0.9780 1)" x="-0.26 5.67 7.41 11.05 14.11 17.48" y="0" font-size="8.957">E/J []</text>
<text transform="translate(377.049 230.065) scale(1.0792 1)" x="0 3.99 7.97" y="0" font-size="7.166">270</text>
<text transform="translate(399.674 230.065) scale(1.0792 1)" x="0 3.99 7.97" y="0" font-size="7.166">225</text>
<text transform="translate(422.299 230.065) scale(1.0792 1)" x="0 3.99 7.97" y="0" font-size="7.166">180</text>
<text transform="translate(444.924 230.065) scale(1.0792 1)" x="0 3.99 7.97" y="0" font-size="7.166">135</text>
<text transform="translate(469.699 230.065) scale(1.0792 1)" x="0 3.99" y="0" font-size="7.166">90</text>
<text transform="translate(492.324 230.065) scale(1.0792 1)" x="0 3.99" y="0" font-size="7.166">45</text>
<text transform="translate(517.100 230.065) scale(1.0792 1)" x="0" y="0" font-size="7.166">0</text>
<text transform="translate(536.354 230.065) scale(1.0661 1)" x="-0.05 2.31 6.35" y="0" font-size="7.166">-45</text>
<text transform="translate(558.979 230.065) scale(1.0661 1)" x="-0.05 2.31 6.35" y="0" font-size="7.166">-90</text>
<text transform="translate(361.251 218.062) scale(1.0792 1)" x="0" y="0" font-size="7.166">1</text>
<text transform="translate(365.552 218.062) scale(1.0792 1)" x="0" y="0" font-size="7.166">0</text>
<text transform="translate(369.918 215.475) scale(1.3536 1)" x="0" y="0" font-size="5.016">−</text>
<text transform="translate(373.883 215.475) scale(1.0792 1)" x="0" y="0" font-size="5.016">2</text>
<text transform="translate(361.173 201.961) scale(1.0792 1)" x="0" y="0" font-size="7.166">1</text>
<text transform="translate(365.474 201.961) scale(1.0792 1)" x="0" y="0" font-size="7.166">0</text>
<text transform="translate(369.840 199.374) scale(1.3536 1)" x="0" y="0" font-size="5.016">−</text>
<text transform="translate(373.805 199.374) scale(1.0792 1)" x="0" y="0" font-size="5.016">1</text>
<text transform="translate(365.101 185.990) scale(1.0792 1)" x="0" y="0" font-size="7.166">1</text>
<text transform="translate(369.402 185.990) scale(1.0792 1)" x="0" y="0" font-size="7.166">0</text>
<text transform="translate(373.767 183.402) scale(1.0792 1)" x="0" y="0" font-size="5.016">0</text>
<text transform="translate(355.843 220.227) rotate(-90) scale(1.0602 1)" x="-0.38 4.11 5.33 8.07 10.33 12.82 15.11 17.43 21.47 26.27 30.33 34.4" y="0" font-size="7.166">E/J [](z=75)</text>
<text transform="translate(362.275 177.680) scale(1.0885 1)" x="0.2 2.86 8.51 13.47 15.44 20.58 23.43 25.56 30 34.87 37.43 39.54 42.66 45.64 50.48 55.52 57.48 62.31 67.16 71.43 76.3 78.66 83.5 88.44 91.19 93.93 98.78 103.64 106.06 112.36 117.31 119.47 121.53 123.89 128.88 131.48 134.24 136.97 141.82 146.69 149.14 153.97 158.92 160.89 165.96 169.33 171.69 176.55 179.66 185.52 187.97 192.91 197.86 200.32" y="0" font-size="8.957">&quot;Relative irradiance on the wall of the hole&quot; θ = 30.0</text>
<text transform="translate(375.436 300.865) scale(1.0792 1)" x="0 4.98 9.96" y="0" font-size="8.957">270</text>
<text transform="translate(398.061 300.865) scale(1.0792 1)" x="0 4.98 9.96" y="0" font-size="8.957">225</text>
<text transform="translate(420.686 300.865) scale(1.0792 1)" x="0 4.98 9.96" y="0" font-size="8.957">180</text>
<text transform="translate(443.311 300.865) scale(1.0792 1)" x="0 4.98 9.96" y="0" font-size="8.957">135</text>
<text transform="translate(468.624 300.865) scale(1.0792 1)" x="0 4.98" y="0" font-size="8.957">90</text>
<text transform="translate(491.249 300.865) scale(1.0792 1)" x="0 4.98" y="0" font-size="8.957">45</text>
<text transform="translate(516.562 300.865) scale(1.0792 1)" x="0" y="0" font-size="8.957">0</text>
<text transform="translate(534.974 300.865) scale(1.0661 1)" x="-0.06 2.89 7.93" y="0" font-size="8.957">-45</text>
<text transform="translate(557.599 300.865) scale(1.0661 1)" x="-0.06 2.89 7.93" y="0" font-size="8.957">-90</text>
<text transform="translate(464.461 312.645) scale(1.1319 1)" x="-0.44 4.87 7.51 10.29 14.16" y="0" font-size="8.957">φ [°]</text>
<text transform="translate(366.833 291.450) scale(1.0792 1)" x="0 4.98" y="0" font-size="8.957">50</text>
<text transform="translate(366.833 266.050) scale(1.0792 1)" x="0 4.98" y="0" font-size="8.957">75</text>
<text transform="translate(361.457 240.650) scale(1.0792 1)" x="0 4.98 9.96" y="0" font-size="8.957">100</text>
<text transform="translate(355.180 274.223) rotate(-90) scale(1.1309 1)" x="-0.28 3.87 6.51 9.12 16.7" y="0" font-size="8.957">z [m]</text>
<text transform="translate(587.308 299.570) scale(0.9636 1)" x="0" y="0" font-size="6.019">1</text>
<text transform="translate(590.534 299.570) scale(0.9636 1)" x="0" y="0" font-size="6.019">0</text>
<text transform="translate(593.808 297.629) scale(1.2085 1)" x="0" y="0" font-size="4.213">−</text>
<text transform="translate(596.782 297.629) scale(0.9636 1)" x="0" y="0" font-size="4.213">2</text>
<text transform="translate(603.033 299.524) scale(0.9636 1)" x="0" y="0" font-size="6.019">1</text>
<text transform="translate(606.258 299.524) scale(0.9636 1)" x="0" y="0" font-size="6.019">0</text>
<text transform="translate(609.533 297.583) scale(1.2085 1)" x="0" y="0" font-size="4.213">−</text>
<text transform="translate(612.506 297.583) scale(0.9636 1)" x="0" y="0" font-size="4.213">1</text>
<text transform="translate(620.213 299.570) scale(0.9636 1)" x="0" y="0" font-size="6.019">1</text>
<text transform="translate(623.439 299.570) scale(0.9636 1)" x="0" y="0" font-size="6.019">0</text>
<text transform="translate(626.713 297.629) scale(0.9636 1)" x="0" y="0" font-size="4.213">0</text>
<text transform="translate(579.733 311.645) scale(1.0569 1)" x="-0.46 5.15 6.69 10.13 12.96 16.08 18.95 21.74 28.01 34.03 39.12 44.2 49.3" y="0" font-size="8.957">E/J [](φ=180)</text>
<text transform="translate(575.934 290.050) scale(0.9385 1)" x="0 3.44" y="0" font-size="6.180">50</text>
<text transform="translate(575.934 264.700) scale(0.9385 1)" x="0 3.44" y="0" font-size="6.180">75</text>
<text transform="translate(572.708 239.350) scale(0.9385 1)" x="0 3.44 6.87" y="0" font-size="6.180">100</text>
<text transform="translate(654.115 289.137) scale(1.0792 1)" x="0" y="0" font-size="8.957">1</text>
<text transform="translate(659.491 289.137) scale(1.0792 1)" x="0" y="0" font-size="8.957">0</text>
<text transform="translate(664.948 285.903) scale(1.3536 1)" x="0" y="0" font-size="6.270">−</text>
<text transform="translate(669.904 285.903) scale(1.0792 1)" x="-0" y="0" font-size="6.270">2</text>
<text transform="translate(654.115 231.152) scale(1.0792 1)" x="0" y="0" font-size="8.957">1</text>
<text transform="translate(659.491 231.152) scale(1.0792 1)" x="0" y="0" font-size="8.957">0</text>
<text transform="translate(664.948 227.917) scale(1.3536 1)" x="0" y="0" font-size="6.270">−</text>
<text transform="translate(669.904 227.917) scale(1.0792 1)" x="-0" y="0" font-size="6.270">1</text>
<text transform="translate(654.115 171.625) scale(1.0792 1)" x="0" y="0" font-size="8.957">1</text>
<text transform="translate(659.491 171.625) scale(1.0792 1)" x="0" y="0" font-size="8.957">0</text>
<text transform="translate(664.948 168.390) scale(1.0792 1)" x="-0" y="0" font-size="6.270">0</text>
<text transform="translate(683.140 244.829) rotate(-90) scale(0.9780 1)" x="-0.26 5.67 7.41 11.05 14.11 17.48" y="0" font-size="8.957">E/J []</text>
<text transform="translate(29.049 393.815) scale(1.0792 1)" x="0 3.99 7.97" y="0" font-size="7.166">270</text>
<text transform="translate(51.674 393.815) scale(1.0792 1)" x="0 3.99 7.97" y="0" font-size="7.166">225</text>
<text transform="translate(74.299 393.815) scale(1.0792 1)" x="0 3.99 7.97" y="0" font-size="7.166">180</text>
<text transform="translate(96.924 393.815) scale(1.0792 1)" x="0 3.99 7.97" y="0" font-size="7.166">135</text>
<text transform="translate(121.699 393.815) scale(1.0792 1)" x="0 3.99" y="0" font-size="7.166">90</text>
<text transform="translate(144.324 393.815) scale(1.0792 1)" x="0 3.99" y="0" font-size="7.166">45</text>
<text transform="translate(169.100 393.815) scale(1.0792 1)" x="0" y="0" font-size="7.166">0</text>
<text transform="translate(188.354 393.815) scale(1.0661 1)" x="-0.05 2.31 6.35" y="0" font-size="7.166">-45</text>
<text transform="translate(210.979 393.815) scale(1.0661 1)" x="-0.05 2.31 6.35" y="0" font-size="7.166">-90</text>
<text transform="translate(13.251 381.812) scale(1.0792 1)" x="0" y="0" font-size="7.166">1</text>
<text transform="translate(17.552 381.812) scale(1.0792 1)" x="0" y="0" font-size="7.166">0</text>
<text transform="translate(21.918 379.225) scale(1.3536 1)" x="0" y="0" font-size="5.016">−</text>
<text transform="translate(25.883 379.225) scale(1.0792 1)" x="0" y="0" font-size="5.016">2</text>
<text transform="translate(13.173 365.711) scale(1.0792 1)" x="0" y="0" font-size="7.166">1</text>
<text transform="translate(17.474 365.711) scale(1.0792 1)" x="0" y="0" font-size="7.166">0</text>
<text transform="translate(21.840 363.124) scale(1.3536 1)" x="0" y="0" font-size="5.016">−</text>
<text transform="translate(25.805 363.124) scale(1.0792 1)" x="0" y="0" font-size="5.016">1</text>
<text transform="translate(17.101 349.740) scale(1.0792 1)" x="0" y="0" font-size="7.166">1</text>
<text transform="translate(21.402 349.740) scale(1.0792 1)" x="0" y="0" font-size="7.166">0</text>
<text transform="translate(25.767 347.152) scale(1.0792 1)" x="0" y="0" font-size="5.016">0</text>
<text transform="translate(7.843 383.977) rotate(-90) scale(1.0602 1)" x="-0.38 4.11 5.33 8.07 10.33 12.82 15.11 17.43 21.47 26.27 30.33 34.4" y="0" font-size="7.166">E/J [](z=75)</text>
<text transform="translate(14.275 341.430) scale(1.0885 1)" x="0.2 2.86 8.51 13.47 15.44 20.58 23.43 25.56 30 34.87 37.43 39.54 42.66 45.64 50.48 55.52 57.48 62.31 67.16 71.43 76.3 78.66 83.5 88.44 91.19 93.93 98.78 103.64 106.06 112.36 117.31 119.47 121.53 123.89 128.88 131.48 134.24 136.97 141.82 146.69 149.14 153.97 158.92 160.89 165.96 169.33 171.69 176.55 179.66 185.52 187.97 192.91 197.86 200.32" y="0" font-size="8.957">&quot;Relative irradiance on the wall of the hole&quot; θ = 60.0</text>
<text transform="translate(27.436 464.615) scale(1.0792 1)" x="0 4.98 9.96" y="0" font-size="8.957">270</text>
<text transform="translate(50.061 464.615) scale(1.0792 1)" x="0 4.98 9.96" y="0" font-size="8.957">225</text>
<text transform="translate(72.686 464.615) scale(1.0792 1)" x="0 4.98 9.96" y="0" font-size="8.957">180</text>
<text transform="translate(95.311 464.615) scale(1.0792 1)" x="0 4.98 9.96" y="0" font-size="8.957">135</text>
<text transform="translate(120.624 464.615) scale(1.0792 1)" x="0 4.98" y="0" font-size="8.957">90</text>
<text transform="translate(143.249 464.615) scale(1.0792 1)" x="0 4.98" y="0" font-size="8.957">45</text>
<text transform="translate(168.562 464.615) scale(1.0792 1)" x="0" y="0" font-size="8.957">0</text>
<text transform="translate(186.974 464.615) scale(1.0661 1)" x="-0.06 2.89 7.93" y="0" font-size="8.957">-45</text>
<text transform="translate(209.599 464.615) scale(1.0661 1)" x="-0.06 2.89 7.93" y="0" font-size="8.957">-90</text>
<text transform="translate(116.461 476.395) scale(1.1319 1)" x="-0.44 4.87 7.51 10.29 14.16" y="0" font-size="8.957">φ [°]</text>
<text transform="translate(18.833 455.200) scale(1.0792 1)" x="0 4.98" y="0" font-size="8.957">50</text>
<text transform="translate(18.833 429.800) scale(1.0792 1)" x="0 4.98" y="0" font-size="8.957">75</text>
<text transform="translate(13.457 404.400) scale(1.0792 1)" x="0 4.98 9.96" y="0" font-size="8.957">100</text>
<text transform="translate(7.180 437.973) rotate(-90) scale(1.1309 1)" x="-0.28 3.87 6.51 9.12 16.7" y="0" font-size="8.957">z [m]</text>
<text transform="translate(239.308 463.320) scale(0.9636 1)" x="0" y="0" font-size="6.019">1</text>
<text transform="translate(242.534 463.320) scale(0.9636 1)" x="0" y="0" font-size="6.019">0</text>
<text transform="translate(245.808 461.379) scale(1.2085 1)" x="0" y="0" font-size="4.213">−</text>
<text transform="translate(248.782 461.379) scale(0.9636 1)" x="0" y="0" font-size="4.213">2</text>
<text transform="translate(255.033 463.274) scale(0.9636 1)" x="0" y="0" font-size="6.019">1</text>
<text transform="translate(258.258 463.274) scale(0.9636 1)" x="0" y="0" font-size="6.019">0</text>
<text transform="translate(261.533 461.333) scale(1.2085 1)" x="0" y="0" font-size="4.213">−</text>
<text transform="translate(264.506 461.333) scale(0.9636 1)" x="0" y="0" font-size="4.213">1</text>
<text transform="translate(272.213 463.320) scale(0.9636 1)" x="0" y="0" font-size="6.019">1</text>
<text transform="translate(275.439 463.320) scale(0.9636 1)" x="0" y="0" font-size="6.019">0</text>
<text transform="translate(278.713 461.379) scale(0.9636 1)" x="0" y="0" font-size="4.213">0</text>
<text transform="translate(231.733 475.395) scale(1.0569 1)" x="-0.46 5.15 6.69 10.13 12.96 16.08 18.95 21.74 28.01 34.03 39.12 44.2 49.3" y="0" font-size="8.957">E/J [](φ=180)</text>
<text transform="translate(227.934 453.800) scale(0.9385 1)" x="0 3.44" y="0" font-size="6.180">50</text>
<text transform="translate(227.934 428.450) scale(0.9385 1)" x="0 3.44" y="0" font-size="6.180">75</text>
<text transform="translate(224.708 403.100) scale(0.9385 1)" x="0 3.44 6.87" y="0" font-size="6.180">100</text>
<text transform="translate(305.415 452.887) scale(1.0792 1)" x="0" y="0" font-size="8.957">1</text>
<text transform="translate(310.791 452.887) scale(1.0792 1)" x="0" y="0" font-size="8.957">0</text>
<text transform="translate(316.248 449.653) scale(1.3536 1)" x="0" y="0" font-size="6.270">−</text>
<text transform="translate(321.204 449.653) scale(1.0792 1)" x="-0" y="0" font-size="6.270">2</text>
<text transform="translate(305.415 394.902) scale(1.0792 1)" x="0" y="0" font-size="8.957">1</text>
<text transform="translate(310.791 394.902) scale(1.0792 1)" x="0" y="0" font-size="8.957">0</text>
<text transform="translate(316.248 391.667) scale(1.3536 1)" x="0" y="0" font-size="6.270">−</text>
<text transform="translate(321.204 391.667) scale(1.0792 1)" x="-0" y="0" font-size="6.270">1</text>
<text transform="translate(305.415 335.375) scale(1.0792 1)" x="0" y="0" font-size="8.957">1</text>
<text transform="translate(310.791 335.375) scale(1.0792 1)" x="0" y="0" font-size="8.957">0</text>
<text transform="translate(316.248 332.140) scale(1.0792 1)" x="-0" y="0" font-size="6.270">0</text>
<text transform="translate(334.440 408.579) rotate(-90) scale(0.9780 1)" x="-0.26 5.67 7.41 11.05 14.11 17.48" y="0" font-size="8.957">E/J []</text>
<text transform="translate(377.049 393.815) scale(1.0792 1)" x="0 3.99 7.97" y="0" font-size="7.166">270</text>
<text transform="translate(399.674 393.815) scale(1.0792 1)" x="0 3.99 7.97" y="0" font-size="7.166">225</text>
<text transform="translate(422.299 393.815) scale(1.0792 1)" x="0 3.99 7.97" y="0" font-size="7.166">180</text>
<text transform="translate(444.924 393.815) scale(1.0792 1)" x="0 3.99 7.97" y="0" font-size="7.166">135</text>
<text transform="translate(469.699 393.815) scale(1.0792 1)" x="0 3.99" y="0" font-size="7.166">90</text>
<text transform="translate(492.324 393.815) scale(1.0792 1)" x="0 3.99" y="0" font-size="7.166">45</text>
<text transform="translate(517.100 393.815) scale(1.0792 1)" x="0" y="0" font-size="7.166">0</text>
<text transform="translate(536.354 393.815) scale(1.0661 1)" x="-0.05 2.31 6.35" y="0" font-size="7.166">-45</text>
<text transform="translate(558.979 393.815) scale(1.0661 1)" x="-0.05 2.31 6.35" y="0" font-size="7.166">-90</text>
<text transform="translate(361.251 381.812) scale(1.0792 1)" x="0" y="0" font-size="7.166">1</text>
<text transform="translate(365.552 381.812) scale(1.0792 1)" x="0" y="0" font-size="7.166">0</text>
<text transform="translate(369.918 379.225) scale(1.3536 1)" x="0" y="0" font-size="5.016">−</text>
<text transform="translate(373.883 379.225) scale(1.0792 1)" x="0" y="0" font-size="5.016">2</text>
<text transform="translate(361.173 365.711) scale(1.0792 1)" x="0" y="0" font-size="7.166">1</text>
<text transform="translate(365.474 365.711) scale(1.0792 1)" x="0" y="0" font-size="7.166">0</text>
<text transform="translate(369.840 363.124) scale(1.3536 1)" x="0" y="0" font-size="5.016">−</text>
<text transform="translate(373.805 363.124) scale(1.0792 1)" x="0" y="0" font-size="5.016">1</text>
<text transform="translate(365.101 349.740) scale(1.0792 1)" x="0" y="0" font-size="7.166">1</text>
<text transform="translate(369.402 349.740) scale(1.0792 1)" x="0" y="0" font-size="7.166">0</text>
<text transform="translate(373.767 347.152) scale(1.0792 1)" x="0" y="0" font-size="5.016">0</text>
<text transform="translate(355.843 383.977) rotate(-90) scale(1.0602 1)" x="-0.38 4.11 5.33 8.07 10.33 12.82 15.11 17.43 21.47 26.27 30.33 34.4" y="0" font-size="7.166">E/J [](z=75)</text>
<text transform="translate(362.275 341.430) scale(1.0885 1)" x="0.2 2.86 8.51 13.47 15.44 20.58 23.43 25.56 30 34.87 37.43 39.54 42.66 45.64 50.48 55.52 57.48 62.31 67.16 71.43 76.3 78.66 83.5 88.44 91.19 93.93 98.78 103.64 106.06 112.36 117.31 119.47 121.53 123.89 128.88 131.48 134.24 136.97 141.82 146.69 149.14 153.97 158.92 160.89 165.96 169.33 171.69 176.55 179.66 185.52 187.97 192.91 197.86 200.32" y="0" font-size="8.957">&quot;Relative irradiance on the wall of the hole&quot; θ = 15.0</text>
<text transform="translate(375.436 464.615) scale(1.0792 1)" x="0 4.98 9.96" y="0" font-size="8.957">270</text>
<text transform="translate(398.061 464.615) scale(1.0792 1)" x="0 4.98 9.96" y="0" font-size="8.957">225</text>
<text transform="translate(420.686 464.615) scale(1.0792 1)" x="0 4.98 9.96" y="0" font-size="8.957">180</text>
<text transform="translate(443.311 464.615) scale(1.0792 1)" x="0 4.98 9.96" y="0" font-size="8.957">135</text>
<text transform="translate(468.624 464.615) scale(1.0792 1)" x="0 4.98" y="0" font-size="8.957">90</text>
<text transform="translate(491.249 464.615) scale(1.0792 1)" x="0 4.98" y="0" font-size="8.957">45</text>
<text transform="translate(516.562 464.615) scale(1.0792 1)" x="0" y="0" font-size="8.957">0</text>
<text transform="translate(534.974 464.615) scale(1.0661 1)" x="-0.06 2.89 7.93" y="0" font-size="8.957">-45</text>
<text transform="translate(557.599 464.615) scale(1.0661 1)" x="-0.06 2.89 7.93" y="0" font-size="8.957">-90</text>
<text transform="translate(464.461 476.395) scale(1.1319 1)" x="-0.44 4.87 7.51 10.29 14.16" y="0" font-size="8.957">φ [°]</text>
<text transform="translate(366.833 455.200) scale(1.0792 1)" x="0 4.98" y="0" font-size="8.957">50</text>
<text transform="translate(366.833 429.800) scale(1.0792 1)" x="0 4.98" y="0" font-size="8.957">75</text>
<text transform="translate(361.457 404.400) scale(1.0792 1)" x="0 4.98 9.96" y="0" font-size="8.957">100</text>
<text transform="translate(355.180 437.973) rotate(-90) scale(1.1309 1)" x="-0.28 3.87 6.51 9.12 16.7" y="0" font-size="8.957">z [m]</text>
<text transform="translate(587.308 463.320) scale(0.9636 1)" x="0" y="0" font-size="6.019">1</text>
<text transform="translate(590.534 463.320) scale(0.9636 1)" x="0" y="0" font-size="6.019">0</text>
<text transform="translate(593.808 461.379) scale(1.2085 1)" x="0" y="0" font-size="4.213">−</text>
<text transform="translate(596.782 461.379) scale(0.9636 1)" x="0" y="0" font-size="4.213">2</text>
<text transform="translate(603.033 463.274) scale(0.9636 1)" x="0" y="0" font-size="6.019">1</text>
<text transform="translate(606.258 463.274) scale(0.9636 1)" x="0" y="0" font-size="6.019">0</text>
<text transform="translate(609.533 461.333) scale(1.2085 1)" x="0" y="0" font-size="4.213">−</text>
<text transform="translate(612.506 461.333) scale(0.9636 1)" x="0" y="0" font-size="4.213">1</text>
<text transform="translate(620.213 463.320) scale(0.9636 1)" x="0" y="0" font-size="6.019">1</text>
<text transform="translate(623.439 463.320) scale(0.9636 1)" x="0" y="0" font-size="6.019">0</text>
<text transform="translate(626.713 461.379) scale(0.9636 1)" x="0" y="0" font-size="4.213">0</text>
<text transform="translate(579.733 475.395) scale(1.0569 1)" x="-0.46 5.15 6.69 10.13 12.96 16.08 18.95 21.74 28.01 34.03 39.12 44.2 49.3" y="0" font-size="8.957">E/J [](φ=180)</text>
<text transform="translate(575.934 453.800) scale(0.9385 1)" x="0 3.44" y="0" font-size="6.180">50</text>
<text transform="translate(575.934 428.450) scale(0.9385 1)" x="0 3.44" y="0" font-size="6.180">75</text>
<text transform="translate(572.708 403.100) scale(0.9385 1)" x="0 3.44 6.87" y="0" font-size="6.180">100</text>
<text transform="translate(654.115 452.887) scale(1.0792 1)" x="0" y="0" font-size="8.957">1</text>
<text transform="translate(659.491 452.887) scale(1.0792 1)" x="0" y="0" font-size="8.957">0</text>
<text transform="translate(664.948 449.653) scale(1.3536 1)" x="0" y="0" font-size="6.270">−</text>
<text transform="translate(669.904 449.653) scale(1.0792 1)" x="-0" y="0" font-size="6.270">2</text>
<text transform="translate(654.115 394.902) scale(1.0792 1)" x="0" y="0" font-size="8.957">1</text>
<text transform="translate(659.491 394.902) scale(1.0792 1)" x="0" y="0" font-size="8.957">0</text>
<text transform="translate(664.948 391.667) scale(1.3536 1)" x="0" y="0" font-size="6.270">−</text>
<text transform="translate(669.904 391.667) scale(1.0792 1)" x="-0" y="0" font-size="6.270">1</text>
<text transform="translate(654.115 335.375) scale(1.0792 1)" x="0" y="0" font-size="8.957">1</text>
<text transform="translate(659.491 335.375) scale(1.0792 1)" x="0" y="0" font-size="8.957">0</text>
<text transform="translate(664.948 332.140) scale(1.0792 1)" x="-0" y="0" font-size="6.270">0</text>
<text transform="translate(683.140 408.579) rotate(-90) scale(0.9780 1)" x="-0.26 5.67 7.41 11.05 14.11 17.48" y="0" font-size="8.957">E/J []</text>
</g>
</svg>
</body></html>
